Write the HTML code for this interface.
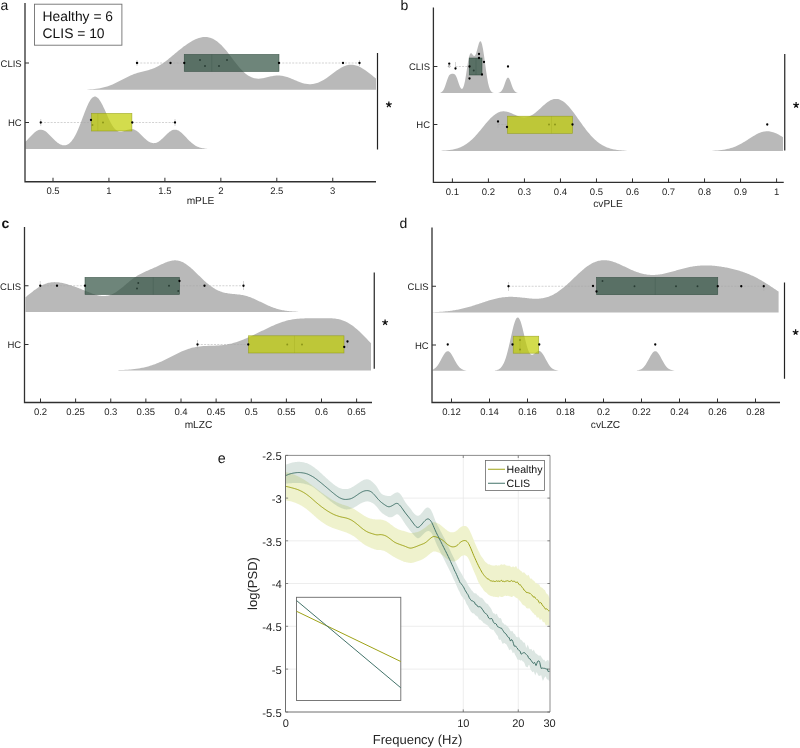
<!DOCTYPE html>
<html><head><meta charset="utf-8"><title>figure</title>
<style>
html,body{margin:0;padding:0;background:#fff;}
body{width:800px;height:748px;overflow:hidden;font-family:"Liberation Sans",sans-serif;}
svg{display:block;} text{text-rendering:geometricPrecision;}
</style></head><body>
<svg width="800" height="748" viewBox="0 0 800 748" style="will-change:transform">
<rect x="0" y="0" width="800" height="748" fill="#ffffff"/>
<path d="M60.00,89.75L60.00,89.75L61.00,89.75L62.00,89.75L63.00,89.75L64.00,89.75L65.00,89.75L66.00,89.75L67.00,89.75L68.00,89.75L69.00,89.75L70.00,89.75L71.00,89.75L72.00,89.75L73.00,89.75L74.00,89.75L75.00,89.75L76.00,89.75L77.00,89.75L78.00,89.75L79.00,89.75L80.00,89.75L81.00,89.75L82.00,89.75L83.00,89.75L84.00,89.75L85.00,89.75L86.00,89.75L87.00,89.75L88.00,89.47L89.00,89.42L90.00,89.37L91.00,89.31L92.00,89.24L93.00,89.16L94.00,89.06L95.00,88.96L96.00,88.85L97.00,88.72L98.00,88.58L99.00,88.42L100.00,88.25L101.00,88.06L102.00,87.85L103.00,87.62L104.00,87.37L105.00,87.11L106.00,86.82L107.00,86.51L108.00,86.18L109.00,85.83L110.00,85.45L111.00,85.06L112.00,84.65L113.00,84.22L114.00,83.77L115.00,83.30L116.00,82.82L117.00,82.32L118.00,81.82L119.00,81.30L120.00,80.78L121.00,80.25L122.00,79.73L123.00,79.20L124.00,78.67L125.00,78.16L126.00,77.65L127.00,77.15L128.00,76.66L129.00,76.19L130.00,75.74L131.00,75.30L132.00,74.89L133.00,74.49L134.00,74.11L135.00,73.76L136.00,73.42L137.00,73.10L138.00,72.80L139.00,72.51L140.00,72.24L141.00,71.98L142.00,71.73L143.00,71.48L144.00,71.23L145.00,70.99L146.00,70.73L147.00,70.47L148.00,70.20L149.00,69.92L150.00,69.61L151.00,69.29L152.00,68.94L153.00,68.56L154.00,68.16L155.00,67.73L156.00,67.26L157.00,66.77L158.00,66.24L159.00,65.68L160.00,65.09L161.00,64.47L162.00,63.82L163.00,63.14L164.00,62.43L165.00,61.70L166.00,60.95L167.00,60.17L168.00,59.38L169.00,58.58L170.00,57.76L171.00,56.93L172.00,56.10L173.00,55.26L174.00,54.42L175.00,53.58L176.00,52.75L177.00,51.92L178.00,51.09L179.00,50.27L180.00,49.46L181.00,48.67L182.00,47.88L183.00,47.12L184.00,46.36L185.00,45.63L186.00,44.91L187.00,44.21L188.00,43.53L189.00,42.88L190.00,42.25L191.00,41.65L192.00,41.07L193.00,40.52L194.00,40.00L195.00,39.52L196.00,39.07L197.00,38.66L198.00,38.28L199.00,37.95L200.00,37.67L201.00,37.42L202.00,37.23L203.00,37.09L204.00,37.00L205.00,36.96L206.00,36.98L207.00,37.06L208.00,37.20L209.00,37.41L210.00,37.67L211.00,38.00L212.00,38.40L213.00,38.86L214.00,39.38L215.00,39.97L216.00,40.63L217.00,41.35L218.00,42.13L219.00,42.97L220.00,43.88L221.00,44.84L222.00,45.85L223.00,46.91L224.00,48.02L225.00,49.18L226.00,50.37L227.00,51.60L228.00,52.85L229.00,54.13L230.00,55.43L231.00,56.74L232.00,58.06L233.00,59.38L234.00,60.69L235.00,62.00L236.00,63.28L237.00,64.54L238.00,65.78L239.00,66.97L240.00,68.13L241.00,69.25L242.00,70.31L243.00,71.32L244.00,72.27L245.00,73.16L246.00,73.99L247.00,74.75L248.00,75.45L249.00,76.07L250.00,76.62L251.00,77.11L252.00,77.52L253.00,77.87L254.00,78.15L255.00,78.36L256.00,78.52L257.00,78.61L258.00,78.65L259.00,78.64L260.00,78.58L261.00,78.48L262.00,78.34L263.00,78.17L264.00,77.98L265.00,77.76L266.00,77.53L267.00,77.29L268.00,77.05L269.00,76.81L270.00,76.58L271.00,76.36L272.00,76.15L273.00,75.97L274.00,75.82L275.00,75.69L276.00,75.59L277.00,75.53L278.00,75.51L279.00,75.52L280.00,75.57L281.00,75.67L282.00,75.80L283.00,75.97L284.00,76.18L285.00,76.42L286.00,76.70L287.00,77.01L288.00,77.34L289.00,77.70L290.00,78.09L291.00,78.49L292.00,78.90L293.00,79.32L294.00,79.75L295.00,80.18L296.00,80.61L297.00,81.03L298.00,81.44L299.00,81.83L300.00,82.21L301.00,82.56L302.00,82.88L303.00,83.18L304.00,83.44L305.00,83.67L306.00,83.86L307.00,84.01L308.00,84.12L309.00,84.19L310.00,84.21L311.00,84.19L312.00,84.12L313.00,84.00L314.00,83.83L315.00,83.62L316.00,83.36L317.00,83.05L318.00,82.69L319.00,82.29L320.00,81.85L321.00,81.37L322.00,80.84L323.00,80.28L324.00,79.68L325.00,79.05L326.00,78.40L327.00,77.71L328.00,77.01L329.00,76.28L330.00,75.54L331.00,74.80L332.00,74.04L333.00,73.29L334.00,72.54L335.00,71.80L336.00,71.07L337.00,70.37L338.00,69.68L339.00,69.02L340.00,68.40L341.00,67.81L342.00,67.26L343.00,66.76L344.00,66.30L345.00,65.90L346.00,65.55L347.00,65.26L348.00,65.02L349.00,64.85L350.00,64.74L351.00,64.69L352.00,64.71L353.00,64.79L354.00,64.93L355.00,65.14L356.00,65.40L357.00,65.73L358.00,66.10L359.00,66.54L360.00,67.02L361.00,67.55L362.00,68.13L363.00,68.74L364.00,69.39L365.00,70.07L366.00,70.78L367.00,71.51L368.00,72.26L369.00,73.02L370.00,73.80L371.00,74.58L372.00,75.36L373.00,76.13L374.00,76.90L375.00,77.66L376.00,78.41L376.00,89.75 Z" fill="#b9b9b9"/>
<path d="M25.50,149.05L25.50,141.63L26.50,140.67L27.50,139.66L28.50,138.61L29.50,137.55L30.50,136.48L31.50,135.43L32.50,134.41L33.50,133.44L34.50,132.54L35.50,131.74L36.50,131.05L37.50,130.48L38.50,130.05L39.50,129.77L40.50,129.65L41.50,129.69L42.50,129.89L43.50,130.24L44.50,130.74L45.50,131.37L46.50,132.12L47.50,132.97L48.50,133.90L49.50,134.89L50.50,135.92L51.50,136.97L52.50,138.02L53.50,139.04L54.50,140.04L55.50,140.98L56.50,141.85L57.50,142.65L58.50,143.36L59.50,143.97L60.50,144.47L61.50,144.86L62.50,145.13L63.50,145.28L64.50,145.29L65.50,145.16L66.50,144.89L67.50,144.47L68.50,143.89L69.50,143.14L70.50,142.23L71.50,141.13L72.50,139.85L73.50,138.38L74.50,136.73L75.50,134.90L76.50,132.89L77.50,130.72L78.50,128.40L79.50,125.95L80.50,123.39L81.50,120.77L82.50,118.09L83.50,115.42L84.50,112.77L85.50,110.20L86.50,107.75L87.50,105.45L88.50,103.35L89.50,101.48L90.50,99.87L91.50,98.56L92.50,97.57L93.50,96.90L94.50,96.58L95.50,96.60L96.50,96.95L97.50,97.63L98.50,98.62L99.50,99.89L100.50,101.41L101.50,103.16L102.50,105.08L103.50,107.15L104.50,109.33L105.50,111.56L106.50,113.82L107.50,116.06L108.50,118.24L109.50,120.33L110.50,122.29L111.50,124.11L112.50,125.76L113.50,127.21L114.50,128.47L115.50,129.51L116.50,130.34L117.50,130.97L118.50,131.39L119.50,131.63L120.50,131.71L121.50,131.64L122.50,131.44L123.50,131.16L124.50,130.82L125.50,130.44L126.50,130.06L127.50,129.71L128.50,129.41L129.50,129.18L130.50,129.05L131.50,129.03L132.50,129.13L133.50,129.36L134.50,129.73L135.50,130.22L136.50,130.83L137.50,131.55L138.50,132.37L139.50,133.26L140.50,134.21L141.50,135.20L142.50,136.21L143.50,137.21L144.50,138.19L145.50,139.12L146.50,139.98L147.50,140.77L148.50,141.47L149.50,142.05L150.50,142.53L151.50,142.87L152.50,143.09L153.50,143.18L154.50,143.12L155.50,142.94L156.50,142.63L157.50,142.19L158.50,141.63L159.50,140.96L160.50,140.20L161.50,139.35L162.50,138.44L163.50,137.47L164.50,136.49L165.50,135.49L166.50,134.51L167.50,133.56L168.50,132.67L169.50,131.87L170.50,131.16L171.50,130.57L172.50,130.12L173.50,129.81L174.50,129.66L175.50,129.66L176.50,129.82L177.50,130.14L178.50,130.60L179.50,131.21L180.50,131.93L181.50,132.76L182.50,133.67L183.50,134.66L184.50,135.69L185.50,136.75L186.50,137.82L187.50,138.88L188.50,139.91L189.50,140.91L190.50,141.86L191.50,142.75L192.50,143.58L193.50,144.33L194.50,145.02L195.50,145.63L196.50,146.18L197.50,146.66L198.50,147.07L199.50,147.43L200.50,147.73L201.50,147.98L202.50,148.20L203.50,148.37L204.50,148.52L205.50,148.63L206.50,148.73L207.50,149.05L208.50,149.05L209.50,149.05L210.50,149.05L211.50,149.05L212.50,149.05L213.50,149.05L214.50,149.05L215.50,149.05L216.50,149.05L217.50,149.05L218.50,149.05L219.50,149.05L220.50,149.05L221.50,149.05L222.50,149.05L223.50,149.05L224.50,149.05L225.50,149.05L226.50,149.05L227.50,149.05L228.50,149.05L229.50,149.05L229.50,149.05 Z" fill="#b9b9b9"/>
<line x1="137.00" y1="63.00" x2="184.25" y2="63.00" stroke="#a6a6a6" stroke-width="0.5" stroke-dasharray="2,1.3"/>
<line x1="279.00" y1="63.00" x2="359.50" y2="63.00" stroke="#a6a6a6" stroke-width="0.5" stroke-dasharray="2,1.3"/>
<rect x="184.25" y="54.40" width="94.75" height="17.10" fill="#305142" fill-opacity="0.7" stroke="#2a463a" stroke-opacity="0.8" stroke-width="0.6"/>
<line x1="211.75" y1="54.40" x2="211.75" y2="71.50" stroke="#2a463a" stroke-opacity="0.35" stroke-width="0.6"/>
<line x1="137.00" y1="60.00" x2="137.00" y2="66.00" stroke="#aaa" stroke-width="0.5"/>
<line x1="359.50" y1="60.00" x2="359.50" y2="66.00" stroke="#aaa" stroke-width="0.5"/>
<circle cx="137.00" cy="63.00" r="1.15" fill="#000"/>
<circle cx="170.50" cy="63.00" r="1.15" fill="#000"/>
<circle cx="184.25" cy="63.00" r="1.15" fill="#000"/>
<circle cx="200.00" cy="60.00" r="0.95" fill="#1c2e27" fill-opacity="0.8"/>
<circle cx="205.00" cy="66.00" r="0.95" fill="#1c2e27" fill-opacity="0.8"/>
<circle cx="219.00" cy="66.00" r="0.95" fill="#1c2e27" fill-opacity="0.8"/>
<circle cx="227.00" cy="60.00" r="0.95" fill="#1c2e27" fill-opacity="0.8"/>
<circle cx="279.00" cy="63.00" r="1.15" fill="#000"/>
<circle cx="343.00" cy="63.00" r="1.15" fill="#000"/>
<circle cx="359.50" cy="63.00" r="1.15" fill="#000"/>
<line x1="40.75" y1="122.50" x2="91.50" y2="122.50" stroke="#a6a6a6" stroke-width="0.5" stroke-dasharray="2,1.3"/>
<line x1="132.25" y1="122.50" x2="175.00" y2="122.50" stroke="#a6a6a6" stroke-width="0.5" stroke-dasharray="2,1.3"/>
<rect x="91.50" y="113.40" width="40.40" height="17.60" fill="#c0cd02" fill-opacity="0.7" stroke="#8f9a10" stroke-opacity="0.8" stroke-width="0.6"/>
<line x1="97.80" y1="113.40" x2="97.80" y2="131.00" stroke="#8f9a10" stroke-opacity="0.35" stroke-width="0.6"/>
<line x1="40.75" y1="119.00" x2="40.75" y2="126.00" stroke="#aaa" stroke-width="0.5"/>
<line x1="175.00" y1="119.00" x2="175.00" y2="126.00" stroke="#aaa" stroke-width="0.5"/>
<circle cx="40.75" cy="122.50" r="1.15" fill="#000"/>
<circle cx="91.00" cy="120.00" r="1.15" fill="#000"/>
<circle cx="92.50" cy="125.00" r="0.95" fill="#7e8a10" fill-opacity="0.8"/>
<circle cx="103.00" cy="122.50" r="0.95" fill="#7e8a10" fill-opacity="0.8"/>
<circle cx="132.25" cy="122.50" r="1.15" fill="#000"/>
<circle cx="175.00" cy="122.50" r="1.15" fill="#000"/>
<path d="M25.00,3.00 V181.75 H376.00" fill="none" stroke="#303030" stroke-width="1.3"/>
<line x1="53.00" y1="181.75" x2="53.00" y2="177.75" stroke="#303030" stroke-width="1"/>
<text x="53.00" y="193.90" font-family="Liberation Sans, sans-serif" font-size="9.5" text-anchor="middle" fill="#262626">0.5</text>
<line x1="108.95" y1="181.75" x2="108.95" y2="177.75" stroke="#303030" stroke-width="1"/>
<text x="108.95" y="193.90" font-family="Liberation Sans, sans-serif" font-size="9.5" text-anchor="middle" fill="#262626">1</text>
<line x1="164.90" y1="181.75" x2="164.90" y2="177.75" stroke="#303030" stroke-width="1"/>
<text x="164.90" y="193.90" font-family="Liberation Sans, sans-serif" font-size="9.5" text-anchor="middle" fill="#262626">1.5</text>
<line x1="220.85" y1="181.75" x2="220.85" y2="177.75" stroke="#303030" stroke-width="1"/>
<text x="220.85" y="193.90" font-family="Liberation Sans, sans-serif" font-size="9.5" text-anchor="middle" fill="#262626">2</text>
<line x1="276.80" y1="181.75" x2="276.80" y2="177.75" stroke="#303030" stroke-width="1"/>
<text x="276.80" y="193.90" font-family="Liberation Sans, sans-serif" font-size="9.5" text-anchor="middle" fill="#262626">2.5</text>
<line x1="332.75" y1="181.75" x2="332.75" y2="177.75" stroke="#303030" stroke-width="1"/>
<text x="332.75" y="193.90" font-family="Liberation Sans, sans-serif" font-size="9.5" text-anchor="middle" fill="#262626">3</text>
<line x1="25.00" y1="63.00" x2="29.00" y2="63.00" stroke="#303030" stroke-width="1"/>
<text x="21.70" y="66.90" font-family="Liberation Sans, sans-serif" font-size="9.5" text-anchor="end" fill="#262626">CLIS</text>
<line x1="25.00" y1="122.50" x2="29.00" y2="122.50" stroke="#303030" stroke-width="1"/>
<text x="21.70" y="126.40" font-family="Liberation Sans, sans-serif" font-size="9.5" text-anchor="end" fill="#262626">HC</text>
<text x="200.50" y="203.50" font-family="Liberation Sans, sans-serif" font-size="10.2" text-anchor="middle" fill="#262626">mPLE</text>
<line x1="377.50" y1="53.00" x2="377.50" y2="149.50" stroke="#222" stroke-width="1.2"/>
<path d="M388.85,104.60 L388.85,101.60 M388.85,104.60 L391.70,103.67 M388.85,104.60 L390.61,107.03 M388.85,104.60 L387.09,107.03 M388.85,104.60 L386.00,103.67 " stroke="#151515" stroke-width="1.25" fill="none"/>
<text x="0.50" y="9.80" font-family="Liberation Sans, sans-serif" font-size="14"  fill="#111">a</text>
<path d="M434.00,93.00L434.00,93.00L435.00,93.00L436.00,93.00L437.00,93.00L438.00,93.00L439.00,93.00L440.00,93.00L441.00,92.44L442.00,91.81L443.00,90.69L444.00,88.94L445.00,86.51L446.00,83.56L447.00,80.44L448.00,77.64L449.00,75.58L450.00,74.38L451.00,73.89L452.00,73.76L453.00,73.78L454.00,73.96L455.00,74.60L456.00,76.01L457.00,78.27L458.00,81.16L459.00,84.19L460.00,86.80L461.00,88.53L462.00,89.02L463.00,88.01L464.00,85.32L465.00,80.91L466.00,75.05L467.00,68.43L468.00,62.05L469.00,56.98L470.00,53.97L471.00,53.10L472.00,53.84L473.00,55.19L474.00,56.07L475.00,55.65L476.00,53.63L477.00,50.27L478.00,46.38L479.00,43.03L480.00,41.19L481.00,41.51L482.00,44.20L483.00,49.04L484.00,55.51L485.00,62.87L486.00,70.31L487.00,77.07L488.00,82.64L489.00,86.78L490.00,89.56L491.00,91.26L492.00,92.19L493.00,92.66L494.00,93.00L495.00,93.00L496.00,93.00L497.00,93.00L498.00,93.00L499.00,92.70L500.00,92.32L501.00,91.58L502.00,90.33L503.00,88.43L504.00,85.90L505.00,83.01L506.00,80.25L507.00,78.24L508.00,77.50L509.00,78.24L510.00,80.25L511.00,83.01L512.00,85.90L513.00,88.43L514.00,90.33L515.00,91.58L516.00,92.32L517.00,92.70L518.00,93.00L519.00,93.00L520.00,93.00L521.00,93.00L522.00,93.00L523.00,93.00L524.00,93.00L525.00,93.00L526.00,93.00L527.00,93.00L528.00,93.00L529.00,93.00L530.00,93.00L530.00,93.00 Z" fill="#b9b9b9"/>
<path d="M434.00,150.95L434.00,150.95L435.00,150.95L436.00,150.95L437.00,150.95L438.00,150.95L439.00,150.95L440.00,150.95L441.00,150.95L442.00,150.66L443.00,150.61L444.00,150.55L445.00,150.48L446.00,150.41L447.00,150.32L448.00,150.22L449.00,150.10L450.00,149.97L451.00,149.82L452.00,149.65L453.00,149.46L454.00,149.25L455.00,149.01L456.00,148.75L457.00,148.46L458.00,148.13L459.00,147.78L460.00,147.39L461.00,146.96L462.00,146.49L463.00,145.99L464.00,145.44L465.00,144.85L466.00,144.21L467.00,143.52L468.00,142.79L469.00,142.01L470.00,141.19L471.00,140.32L472.00,139.40L473.00,138.44L474.00,137.43L475.00,136.39L476.00,135.30L477.00,134.19L478.00,133.04L479.00,131.86L480.00,130.67L481.00,129.46L482.00,128.23L483.00,127.01L484.00,125.78L485.00,124.57L486.00,123.36L487.00,122.19L488.00,121.04L489.00,119.93L490.00,118.86L491.00,117.85L492.00,116.89L493.00,115.99L494.00,115.16L495.00,114.41L496.00,113.73L497.00,113.13L498.00,112.62L499.00,112.19L500.00,111.85L501.00,111.59L502.00,111.42L503.00,111.33L504.00,111.33L505.00,111.39L506.00,111.53L507.00,111.74L508.00,112.00L509.00,112.32L510.00,112.68L511.00,113.08L512.00,113.50L513.00,113.94L514.00,114.39L515.00,114.84L516.00,115.28L517.00,115.70L518.00,116.09L519.00,116.44L520.00,116.74L521.00,117.00L522.00,117.19L523.00,117.32L524.00,117.38L525.00,117.36L526.00,117.26L527.00,117.09L528.00,116.84L529.00,116.50L530.00,116.09L531.00,115.60L532.00,115.04L533.00,114.41L534.00,113.72L535.00,112.97L536.00,112.17L537.00,111.32L538.00,110.45L539.00,109.55L540.00,108.63L541.00,107.70L542.00,106.78L543.00,105.87L544.00,104.99L545.00,104.13L546.00,103.31L547.00,102.54L548.00,101.83L549.00,101.18L550.00,100.60L551.00,100.10L552.00,99.68L553.00,99.35L554.00,99.11L555.00,98.97L556.00,98.92L557.00,98.97L558.00,99.12L559.00,99.37L560.00,99.72L561.00,100.16L562.00,100.70L563.00,101.34L564.00,102.06L565.00,102.86L566.00,103.75L567.00,104.71L568.00,105.74L569.00,106.83L570.00,107.99L571.00,109.20L572.00,110.45L573.00,111.75L574.00,113.08L575.00,114.44L576.00,115.83L577.00,117.23L578.00,118.64L579.00,120.05L580.00,121.46L581.00,122.87L582.00,124.27L583.00,125.65L584.00,127.01L585.00,128.35L586.00,129.66L587.00,130.93L588.00,132.17L589.00,133.37L590.00,134.54L591.00,135.66L592.00,136.73L593.00,137.76L594.00,138.75L595.00,139.69L596.00,140.58L597.00,141.42L598.00,142.21L599.00,142.96L600.00,143.66L601.00,144.32L602.00,144.93L603.00,145.50L604.00,146.03L605.00,146.51L606.00,146.96L607.00,147.38L608.00,147.76L609.00,148.10L610.00,148.42L611.00,148.70L612.00,148.96L613.00,149.20L614.00,149.41L615.00,149.59L616.00,149.76L617.00,149.91L618.00,150.05L619.00,150.17L620.00,150.27L621.00,150.36L622.00,150.45L623.00,150.52L624.00,150.58L625.00,150.63L626.00,150.68L627.00,150.95L628.00,150.95L629.00,150.95L630.00,150.95L631.00,150.95L632.00,150.95L633.00,150.95L634.00,150.95L635.00,150.95L636.00,150.95L637.00,150.95L638.00,150.95L639.00,150.95L640.00,150.95L641.00,150.95L642.00,150.95L643.00,150.95L644.00,150.95L645.00,150.95L646.00,150.95L647.00,150.95L648.00,150.95L649.00,150.95L650.00,150.95L651.00,150.95L652.00,150.95L653.00,150.95L654.00,150.95L655.00,150.95L656.00,150.95L657.00,150.95L658.00,150.95L659.00,150.95L660.00,150.95L661.00,150.95L662.00,150.95L663.00,150.95L664.00,150.95L665.00,150.95L666.00,150.95L667.00,150.95L668.00,150.95L669.00,150.95L670.00,150.95L671.00,150.95L672.00,150.95L673.00,150.95L674.00,150.95L675.00,150.95L676.00,150.95L677.00,150.95L678.00,150.95L679.00,150.95L680.00,150.95L681.00,150.95L682.00,150.95L683.00,150.95L684.00,150.95L685.00,150.95L686.00,150.95L687.00,150.95L688.00,150.95L689.00,150.95L690.00,150.95L691.00,150.95L692.00,150.95L693.00,150.95L694.00,150.95L695.00,150.95L696.00,150.95L697.00,150.95L698.00,150.95L699.00,150.95L700.00,150.95L701.00,150.95L702.00,150.95L703.00,150.95L704.00,150.95L705.00,150.95L706.00,150.95L707.00,150.95L708.00,150.95L709.00,150.95L710.00,150.95L711.00,150.95L712.00,150.95L713.00,150.68L714.00,150.64L715.00,150.58L716.00,150.53L717.00,150.46L718.00,150.38L719.00,150.29L720.00,150.19L721.00,150.08L722.00,149.96L723.00,149.82L724.00,149.67L725.00,149.50L726.00,149.31L727.00,149.10L728.00,148.87L729.00,148.63L730.00,148.36L731.00,148.06L732.00,147.74L733.00,147.40L734.00,147.03L735.00,146.64L736.00,146.22L737.00,145.78L738.00,145.31L739.00,144.81L740.00,144.29L741.00,143.75L742.00,143.19L743.00,142.61L744.00,142.01L745.00,141.39L746.00,140.76L747.00,140.13L748.00,139.49L749.00,138.84L750.00,138.20L751.00,137.56L752.00,136.92L753.00,136.31L754.00,135.71L755.00,135.13L756.00,134.58L757.00,134.05L758.00,133.56L759.00,133.11L760.00,132.71L761.00,132.34L762.00,132.03L763.00,131.76L764.00,131.55L765.00,131.40L766.00,131.29L767.00,131.25L768.00,131.27L769.00,131.34L770.00,131.47L771.00,131.65L772.00,131.89L773.00,132.18L774.00,132.52L775.00,132.90L776.00,133.33L777.00,133.80L778.00,134.31L779.00,134.85L780.00,135.41L781.00,136.00L782.00,136.61L783.00,137.24L783.00,150.95 Z" fill="#b9b9b9"/>
<line x1="455.50" y1="66.50" x2="469.25" y2="66.50" stroke="#a6a6a6" stroke-width="0.5" stroke-dasharray="2,1.3"/>
<rect x="469.25" y="58.00" width="12.75" height="17.00" fill="#305142" fill-opacity="0.7" stroke="#2a463a" stroke-opacity="0.8" stroke-width="0.6"/>
<line x1="476.00" y1="58.00" x2="476.00" y2="75.00" stroke="#2a463a" stroke-opacity="0.35" stroke-width="0.6"/>
<line x1="455.50" y1="62.00" x2="455.50" y2="68.00" stroke="#aaa" stroke-width="0.5"/>
<circle cx="449.25" cy="63.70" r="1.15" fill="#000"/>
<circle cx="449.25" cy="66.30" r="0.95" fill="#fff" stroke="#555" stroke-width="0.5"/>
<circle cx="455.50" cy="68.50" r="1.15" fill="#000"/>
<circle cx="469.50" cy="66.50" r="1.15" fill="#000"/>
<circle cx="469.50" cy="78.50" r="1.15" fill="#000"/>
<circle cx="473.75" cy="70.50" r="0.95" fill="#1c2e27" fill-opacity="0.8"/>
<circle cx="479.00" cy="54.00" r="1.15" fill="#000"/>
<circle cx="479.00" cy="58.00" r="1.15" fill="#000"/>
<circle cx="482.00" cy="74.50" r="1.15" fill="#000"/>
<circle cx="484.00" cy="62.00" r="1.15" fill="#000"/>
<circle cx="508.00" cy="66.50" r="1.15" fill="#000"/>
<line x1="498.00" y1="124.50" x2="507.50" y2="124.50" stroke="#a6a6a6" stroke-width="0.5" stroke-dasharray="2,1.3"/>
<rect x="507.50" y="116.20" width="65.00" height="17.20" fill="#c0cd02" fill-opacity="0.7" stroke="#8f9a10" stroke-opacity="0.8" stroke-width="0.6"/>
<line x1="551.50" y1="116.20" x2="551.50" y2="133.40" stroke="#8f9a10" stroke-opacity="0.35" stroke-width="0.6"/>
<line x1="498.00" y1="122.00" x2="498.00" y2="128.00" stroke="#aaa" stroke-width="0.5"/>
<circle cx="498.00" cy="121.50" r="1.15" fill="#000"/>
<circle cx="507.00" cy="127.00" r="1.15" fill="#000"/>
<circle cx="549.00" cy="124.50" r="0.95" fill="#7e8a10" fill-opacity="0.8"/>
<circle cx="555.00" cy="124.50" r="0.95" fill="#7e8a10" fill-opacity="0.8"/>
<circle cx="572.50" cy="124.50" r="1.15" fill="#000"/>
<circle cx="767.25" cy="124.50" r="1.15" fill="#000"/>
<path d="M433.40,7.50 V182.40 H783.75" fill="none" stroke="#303030" stroke-width="1.3"/>
<line x1="452.40" y1="182.40" x2="452.40" y2="178.40" stroke="#303030" stroke-width="1"/>
<text x="452.40" y="194.60" font-family="Liberation Sans, sans-serif" font-size="9.5" text-anchor="middle" fill="#262626">0.1</text>
<line x1="488.42" y1="182.40" x2="488.42" y2="178.40" stroke="#303030" stroke-width="1"/>
<text x="488.42" y="194.60" font-family="Liberation Sans, sans-serif" font-size="9.5" text-anchor="middle" fill="#262626">0.2</text>
<line x1="524.44" y1="182.40" x2="524.44" y2="178.40" stroke="#303030" stroke-width="1"/>
<text x="524.44" y="194.60" font-family="Liberation Sans, sans-serif" font-size="9.5" text-anchor="middle" fill="#262626">0.3</text>
<line x1="560.46" y1="182.40" x2="560.46" y2="178.40" stroke="#303030" stroke-width="1"/>
<text x="560.46" y="194.60" font-family="Liberation Sans, sans-serif" font-size="9.5" text-anchor="middle" fill="#262626">0.4</text>
<line x1="596.48" y1="182.40" x2="596.48" y2="178.40" stroke="#303030" stroke-width="1"/>
<text x="596.48" y="194.60" font-family="Liberation Sans, sans-serif" font-size="9.5" text-anchor="middle" fill="#262626">0.5</text>
<line x1="632.50" y1="182.40" x2="632.50" y2="178.40" stroke="#303030" stroke-width="1"/>
<text x="632.50" y="194.60" font-family="Liberation Sans, sans-serif" font-size="9.5" text-anchor="middle" fill="#262626">0.6</text>
<line x1="668.52" y1="182.40" x2="668.52" y2="178.40" stroke="#303030" stroke-width="1"/>
<text x="668.52" y="194.60" font-family="Liberation Sans, sans-serif" font-size="9.5" text-anchor="middle" fill="#262626">0.7</text>
<line x1="704.54" y1="182.40" x2="704.54" y2="178.40" stroke="#303030" stroke-width="1"/>
<text x="704.54" y="194.60" font-family="Liberation Sans, sans-serif" font-size="9.5" text-anchor="middle" fill="#262626">0.8</text>
<line x1="740.56" y1="182.40" x2="740.56" y2="178.40" stroke="#303030" stroke-width="1"/>
<text x="740.56" y="194.60" font-family="Liberation Sans, sans-serif" font-size="9.5" text-anchor="middle" fill="#262626">0.9</text>
<line x1="776.58" y1="182.40" x2="776.58" y2="178.40" stroke="#303030" stroke-width="1"/>
<text x="776.58" y="194.60" font-family="Liberation Sans, sans-serif" font-size="9.5" text-anchor="middle" fill="#262626">1</text>
<line x1="433.40" y1="66.50" x2="437.40" y2="66.50" stroke="#303030" stroke-width="1"/>
<text x="430.10" y="70.40" font-family="Liberation Sans, sans-serif" font-size="9.5" text-anchor="end" fill="#262626">CLIS</text>
<line x1="433.40" y1="124.50" x2="437.40" y2="124.50" stroke="#303030" stroke-width="1"/>
<text x="430.10" y="128.40" font-family="Liberation Sans, sans-serif" font-size="9.5" text-anchor="end" fill="#262626">HC</text>
<text x="608.00" y="207.00" font-family="Liberation Sans, sans-serif" font-size="10.2" text-anchor="middle" fill="#262626">cvPLE</text>
<line x1="784.75" y1="54.00" x2="784.75" y2="150.50" stroke="#222" stroke-width="1.2"/>
<path d="M796.10,105.10 L796.10,102.10 M796.10,105.10 L798.95,104.17 M796.10,105.10 L797.86,107.53 M796.10,105.10 L794.34,107.53 M796.10,105.10 L793.25,104.17 " stroke="#151515" stroke-width="1.25" fill="none"/>
<text x="400.50" y="9.80" font-family="Liberation Sans, sans-serif" font-size="14"  fill="#111">b</text>
<path d="M25.50,311.95L25.50,297.20L26.50,296.40L27.50,295.60L28.50,294.80L29.50,294.00L30.50,293.20L31.50,292.41L32.50,291.63L33.50,290.86L34.50,290.11L35.50,289.38L36.50,288.68L37.50,287.99L38.50,287.34L39.50,286.72L40.50,286.13L41.50,285.58L42.50,285.07L43.50,284.60L44.50,284.16L45.50,283.77L46.50,283.42L47.50,283.12L48.50,282.85L49.50,282.63L50.50,282.45L51.50,282.31L52.50,282.21L53.50,282.15L54.50,282.12L55.50,282.14L56.50,282.18L57.50,282.26L58.50,282.36L59.50,282.50L60.50,282.66L61.50,282.84L62.50,283.05L63.50,283.27L64.50,283.51L65.50,283.77L66.50,284.05L67.50,284.33L68.50,284.63L69.50,284.94L70.50,285.26L71.50,285.58L72.50,285.92L73.50,286.26L74.50,286.61L75.50,286.97L76.50,287.34L77.50,287.71L78.50,288.08L79.50,288.47L80.50,288.86L81.50,289.25L82.50,289.65L83.50,290.05L84.50,290.46L85.50,290.86L86.50,291.27L87.50,291.68L88.50,292.08L89.50,292.48L90.50,292.87L91.50,293.26L92.50,293.63L93.50,293.98L94.50,294.32L95.50,294.64L96.50,294.93L97.50,295.20L98.50,295.43L99.50,295.63L100.50,295.80L101.50,295.92L102.50,296.00L103.50,296.04L104.50,296.02L105.50,295.96L106.50,295.84L107.50,295.67L108.50,295.45L109.50,295.17L110.50,294.83L111.50,294.44L112.50,294.00L113.50,293.51L114.50,292.97L115.50,292.38L116.50,291.74L117.50,291.07L118.50,290.35L119.50,289.61L120.50,288.83L121.50,288.04L122.50,287.22L123.50,286.39L124.50,285.55L125.50,284.70L126.50,283.85L127.50,283.01L128.50,282.18L129.50,281.36L130.50,280.56L131.50,279.78L132.50,279.02L133.50,278.28L134.50,277.58L135.50,276.89L136.50,276.24L137.50,275.62L138.50,275.02L139.50,274.45L140.50,273.91L141.50,273.39L142.50,272.89L143.50,272.41L144.50,271.95L145.50,271.50L146.50,271.06L147.50,270.63L148.50,270.20L149.50,269.78L150.50,269.35L151.50,268.92L152.50,268.49L153.50,268.05L154.50,267.60L155.50,267.15L156.50,266.69L157.50,266.23L158.50,265.76L159.50,265.29L160.50,264.81L161.50,264.34L162.50,263.88L163.50,263.43L164.50,262.99L165.50,262.57L166.50,262.17L167.50,261.80L168.50,261.46L169.50,261.16L170.50,260.89L171.50,260.68L172.50,260.51L173.50,260.40L174.50,260.34L175.50,260.34L176.50,260.40L177.50,260.52L178.50,260.71L179.50,260.96L180.50,261.27L181.50,261.65L182.50,262.09L183.50,262.59L184.50,263.15L185.50,263.76L186.50,264.43L187.50,265.15L188.50,265.91L189.50,266.72L190.50,267.56L191.50,268.43L192.50,269.34L193.50,270.27L194.50,271.22L195.50,272.18L196.50,273.16L197.50,274.14L198.50,275.13L199.50,276.11L200.50,277.09L201.50,278.06L202.50,279.02L203.50,279.96L204.50,280.88L205.50,281.79L206.50,282.66L207.50,283.52L208.50,284.34L209.50,285.13L210.50,285.89L211.50,286.61L212.50,287.30L213.50,287.95L214.50,288.57L215.50,289.14L216.50,289.68L217.50,290.18L218.50,290.64L219.50,291.07L220.50,291.46L221.50,291.81L222.50,292.13L223.50,292.41L224.50,292.66L225.50,292.89L226.50,293.09L227.50,293.27L228.50,293.42L229.50,293.56L230.50,293.68L231.50,293.79L232.50,293.89L233.50,293.98L234.50,294.08L235.50,294.17L236.50,294.27L237.50,294.38L238.50,294.49L239.50,294.62L240.50,294.77L241.50,294.93L242.50,295.11L243.50,295.31L244.50,295.53L245.50,295.78L246.50,296.04L247.50,296.34L248.50,296.65L249.50,296.99L250.50,297.35L251.50,297.74L252.50,298.14L253.50,298.56L254.50,299.00L255.50,299.46L256.50,299.92L257.50,300.40L258.50,300.88L259.50,301.38L260.50,301.87L261.50,302.37L262.50,302.86L263.50,303.35L264.50,303.84L265.50,304.32L266.50,304.79L267.50,305.25L268.50,305.69L269.50,306.12L270.50,306.54L271.50,306.94L272.50,307.32L273.50,307.69L274.50,308.04L275.50,308.36L276.50,308.67L277.50,308.97L278.50,309.24L279.50,309.49L280.50,309.73L281.50,309.95L282.50,310.15L283.50,310.34L284.50,310.51L285.50,310.67L286.50,310.81L287.50,310.94L288.50,311.06L289.50,311.16L290.50,311.26L291.50,311.34L292.50,311.42L293.50,311.49L294.50,311.55L295.50,311.60L296.50,311.65L297.50,311.69L298.50,311.95L299.50,311.95L300.50,311.95L301.50,311.95L302.50,311.95L303.50,311.95L304.50,311.95L305.50,311.95L306.50,311.95L307.50,311.95L308.50,311.95L309.50,311.95L309.50,311.95 Z" fill="#b9b9b9"/>
<path d="M100.00,370.40L100.00,370.40L101.00,370.40L102.00,370.40L103.00,370.40L104.00,370.40L105.00,370.40L106.00,370.40L107.00,370.40L108.00,370.40L109.00,370.40L110.00,370.40L111.00,370.40L112.00,370.40L113.00,370.40L114.00,370.40L115.00,370.40L116.00,370.40L117.00,370.40L118.00,370.40L119.00,370.12L120.00,370.09L121.00,370.05L122.00,370.01L123.00,369.97L124.00,369.92L125.00,369.87L126.00,369.81L127.00,369.75L128.00,369.68L129.00,369.60L130.00,369.52L131.00,369.43L132.00,369.34L133.00,369.23L134.00,369.12L135.00,369.00L136.00,368.87L137.00,368.73L138.00,368.58L139.00,368.42L140.00,368.25L141.00,368.06L142.00,367.87L143.00,367.66L144.00,367.44L145.00,367.21L146.00,366.96L147.00,366.71L148.00,366.43L149.00,366.15L150.00,365.85L151.00,365.53L152.00,365.20L153.00,364.86L154.00,364.50L155.00,364.13L156.00,363.75L157.00,363.35L158.00,362.94L159.00,362.52L160.00,362.08L161.00,361.63L162.00,361.18L163.00,360.71L164.00,360.23L165.00,359.75L166.00,359.26L167.00,358.76L168.00,358.26L169.00,357.75L170.00,357.24L171.00,356.73L172.00,356.21L173.00,355.70L174.00,355.19L175.00,354.69L176.00,354.19L177.00,353.70L178.00,353.21L179.00,352.73L180.00,352.27L181.00,351.81L182.00,351.37L183.00,350.94L184.00,350.53L185.00,350.13L186.00,349.75L187.00,349.39L188.00,349.04L189.00,348.72L190.00,348.41L191.00,348.12L192.00,347.85L193.00,347.60L194.00,347.38L195.00,347.16L196.00,346.97L197.00,346.80L198.00,346.64L199.00,346.51L200.00,346.38L201.00,346.28L202.00,346.18L203.00,346.10L204.00,346.03L205.00,345.98L206.00,345.93L207.00,345.89L208.00,345.85L209.00,345.82L210.00,345.79L211.00,345.77L212.00,345.74L213.00,345.72L214.00,345.69L215.00,345.65L216.00,345.61L217.00,345.56L218.00,345.51L219.00,345.45L220.00,345.37L221.00,345.28L222.00,345.18L223.00,345.07L224.00,344.95L225.00,344.81L226.00,344.65L227.00,344.48L228.00,344.29L229.00,344.09L230.00,343.87L231.00,343.64L232.00,343.39L233.00,343.12L234.00,342.84L235.00,342.54L236.00,342.23L237.00,341.91L238.00,341.57L239.00,341.22L240.00,340.85L241.00,340.48L242.00,340.09L243.00,339.69L244.00,339.28L245.00,338.86L246.00,338.44L247.00,338.00L248.00,337.56L249.00,337.11L250.00,336.65L251.00,336.19L252.00,335.72L253.00,335.25L254.00,334.77L255.00,334.29L256.00,333.81L257.00,333.32L258.00,332.83L259.00,332.34L260.00,331.85L261.00,331.36L262.00,330.87L263.00,330.38L264.00,329.89L265.00,329.40L266.00,328.92L267.00,328.44L268.00,327.96L269.00,327.48L270.00,327.02L271.00,326.55L272.00,326.10L273.00,325.65L274.00,325.21L275.00,324.78L276.00,324.36L277.00,323.95L278.00,323.55L279.00,323.16L280.00,322.79L281.00,322.43L282.00,322.08L283.00,321.75L284.00,321.43L285.00,321.13L286.00,320.85L287.00,320.58L288.00,320.33L289.00,320.10L290.00,319.88L291.00,319.68L292.00,319.50L293.00,319.33L294.00,319.18L295.00,319.05L296.00,318.92L297.00,318.82L298.00,318.72L299.00,318.64L300.00,318.58L301.00,318.52L302.00,318.47L303.00,318.43L304.00,318.40L305.00,318.37L306.00,318.35L307.00,318.34L308.00,318.33L309.00,318.32L310.00,318.31L311.00,318.30L312.00,318.30L313.00,318.29L314.00,318.28L315.00,318.27L316.00,318.26L317.00,318.25L318.00,318.24L319.00,318.22L320.00,318.20L321.00,318.19L322.00,318.17L323.00,318.16L324.00,318.15L325.00,318.14L326.00,318.13L327.00,318.14L328.00,318.15L329.00,318.17L330.00,318.20L331.00,318.25L332.00,318.31L333.00,318.39L334.00,318.48L335.00,318.60L336.00,318.75L337.00,318.91L338.00,319.11L339.00,319.33L340.00,319.58L341.00,319.87L342.00,320.18L343.00,320.54L344.00,320.92L345.00,321.35L346.00,321.81L347.00,322.31L348.00,322.84L349.00,323.42L350.00,324.03L351.00,324.68L352.00,325.36L353.00,326.09L354.00,326.84L355.00,327.64L356.00,328.46L357.00,329.31L358.00,330.20L359.00,331.11L360.00,332.05L361.00,333.01L362.00,333.99L363.00,334.98L364.00,336.00L365.00,337.03L366.00,338.07L367.00,339.11L368.00,340.17L369.00,341.22L370.00,342.28L371.00,343.33L371.00,370.40 Z" fill="#b9b9b9"/>
<line x1="40.25" y1="285.75" x2="85.00" y2="285.75" stroke="#a6a6a6" stroke-width="0.5" stroke-dasharray="2,1.3"/>
<line x1="179.50" y1="285.75" x2="243.50" y2="285.75" stroke="#a6a6a6" stroke-width="0.5" stroke-dasharray="2,1.3"/>
<rect x="85.00" y="277.40" width="94.50" height="17.10" fill="#305142" fill-opacity="0.7" stroke="#2a463a" stroke-opacity="0.8" stroke-width="0.6"/>
<line x1="153.25" y1="277.40" x2="153.25" y2="294.50" stroke="#2a463a" stroke-opacity="0.35" stroke-width="0.6"/>
<line x1="40.25" y1="281.00" x2="40.25" y2="290.00" stroke="#aaa" stroke-width="0.5"/>
<line x1="243.50" y1="281.00" x2="243.50" y2="290.00" stroke="#aaa" stroke-width="0.5"/>
<circle cx="40.25" cy="285.75" r="1.15" fill="#000"/>
<circle cx="57.00" cy="285.75" r="1.15" fill="#000"/>
<circle cx="85.00" cy="285.75" r="1.15" fill="#000"/>
<circle cx="138.25" cy="283.00" r="0.95" fill="#1c2e27" fill-opacity="0.8"/>
<circle cx="137.00" cy="288.50" r="0.95" fill="#1c2e27" fill-opacity="0.8"/>
<circle cx="169.00" cy="285.75" r="0.95" fill="#1c2e27" fill-opacity="0.8"/>
<circle cx="179.50" cy="281.00" r="1.15" fill="#000"/>
<circle cx="178.25" cy="291.00" r="0.95" fill="#1c2e27" fill-opacity="0.8"/>
<circle cx="204.50" cy="285.75" r="1.15" fill="#000"/>
<circle cx="243.50" cy="285.75" r="1.15" fill="#000"/>
<line x1="197.50" y1="344.50" x2="248.50" y2="344.50" stroke="#a6a6a6" stroke-width="0.5" stroke-dasharray="2,1.3"/>
<rect x="248.50" y="335.80" width="95.50" height="17.20" fill="#c0cd02" fill-opacity="0.7" stroke="#8f9a10" stroke-opacity="0.8" stroke-width="0.6"/>
<line x1="294.50" y1="335.80" x2="294.50" y2="353.00" stroke="#8f9a10" stroke-opacity="0.35" stroke-width="0.6"/>
<line x1="197.50" y1="340.00" x2="197.50" y2="349.00" stroke="#aaa" stroke-width="0.5"/>
<line x1="347.50" y1="341.00" x2="347.50" y2="348.00" stroke="#aaa" stroke-width="0.5"/>
<circle cx="197.50" cy="344.50" r="1.15" fill="#000"/>
<circle cx="248.25" cy="344.50" r="1.15" fill="#000"/>
<circle cx="287.25" cy="344.50" r="0.95" fill="#7e8a10" fill-opacity="0.8"/>
<circle cx="302.00" cy="344.50" r="0.95" fill="#7e8a10" fill-opacity="0.8"/>
<circle cx="344.25" cy="347.00" r="1.15" fill="#000"/>
<circle cx="347.50" cy="341.50" r="1.15" fill="#000"/>
<path d="M24.50,227.00 V402.50 H372.00" fill="none" stroke="#303030" stroke-width="1.3"/>
<line x1="40.50" y1="402.50" x2="40.50" y2="398.50" stroke="#303030" stroke-width="1"/>
<text x="40.50" y="415.00" font-family="Liberation Sans, sans-serif" font-size="9.5" text-anchor="middle" fill="#262626">0.2</text>
<line x1="75.62" y1="402.50" x2="75.62" y2="398.50" stroke="#303030" stroke-width="1"/>
<text x="75.62" y="415.00" font-family="Liberation Sans, sans-serif" font-size="9.5" text-anchor="middle" fill="#262626">0.25</text>
<line x1="110.75" y1="402.50" x2="110.75" y2="398.50" stroke="#303030" stroke-width="1"/>
<text x="110.75" y="415.00" font-family="Liberation Sans, sans-serif" font-size="9.5" text-anchor="middle" fill="#262626">0.3</text>
<line x1="145.87" y1="402.50" x2="145.87" y2="398.50" stroke="#303030" stroke-width="1"/>
<text x="145.87" y="415.00" font-family="Liberation Sans, sans-serif" font-size="9.5" text-anchor="middle" fill="#262626">0.35</text>
<line x1="181.00" y1="402.50" x2="181.00" y2="398.50" stroke="#303030" stroke-width="1"/>
<text x="181.00" y="415.00" font-family="Liberation Sans, sans-serif" font-size="9.5" text-anchor="middle" fill="#262626">0.4</text>
<line x1="216.12" y1="402.50" x2="216.12" y2="398.50" stroke="#303030" stroke-width="1"/>
<text x="216.12" y="415.00" font-family="Liberation Sans, sans-serif" font-size="9.5" text-anchor="middle" fill="#262626">0.45</text>
<line x1="251.25" y1="402.50" x2="251.25" y2="398.50" stroke="#303030" stroke-width="1"/>
<text x="251.25" y="415.00" font-family="Liberation Sans, sans-serif" font-size="9.5" text-anchor="middle" fill="#262626">0.5</text>
<line x1="286.38" y1="402.50" x2="286.38" y2="398.50" stroke="#303030" stroke-width="1"/>
<text x="286.38" y="415.00" font-family="Liberation Sans, sans-serif" font-size="9.5" text-anchor="middle" fill="#262626">0.55</text>
<line x1="321.50" y1="402.50" x2="321.50" y2="398.50" stroke="#303030" stroke-width="1"/>
<text x="321.50" y="415.00" font-family="Liberation Sans, sans-serif" font-size="9.5" text-anchor="middle" fill="#262626">0.6</text>
<line x1="356.62" y1="402.50" x2="356.62" y2="398.50" stroke="#303030" stroke-width="1"/>
<text x="356.62" y="415.00" font-family="Liberation Sans, sans-serif" font-size="9.5" text-anchor="middle" fill="#262626">0.65</text>
<line x1="24.50" y1="285.75" x2="28.50" y2="285.75" stroke="#303030" stroke-width="1"/>
<text x="21.20" y="289.65" font-family="Liberation Sans, sans-serif" font-size="9.5" text-anchor="end" fill="#262626">CLIS</text>
<line x1="24.50" y1="344.50" x2="28.50" y2="344.50" stroke="#303030" stroke-width="1"/>
<text x="21.20" y="348.40" font-family="Liberation Sans, sans-serif" font-size="9.5" text-anchor="end" fill="#262626">HC</text>
<text x="198.50" y="427.50" font-family="Liberation Sans, sans-serif" font-size="10.2" text-anchor="middle" fill="#262626">mLZC</text>
<line x1="374.25" y1="272.50" x2="374.25" y2="368.75" stroke="#222" stroke-width="1.2"/>
<path d="M385.10,322.40 L385.10,319.40 M385.10,322.40 L387.95,321.47 M385.10,322.40 L386.86,324.83 M385.10,322.40 L383.34,324.83 M385.10,322.40 L382.25,321.47 " stroke="#151515" stroke-width="1.25" fill="none"/>
<text x="1.50" y="228.20" font-family="Liberation Sans, sans-serif" font-size="14" font-weight="bold" fill="#111">c</text>
<path d="M432.60,312.60L432.60,312.21L433.60,312.17L434.60,312.13L435.60,312.08L436.60,312.03L437.60,311.98L438.60,311.92L439.60,311.85L440.60,311.79L441.60,311.71L442.60,311.63L443.60,311.55L444.60,311.46L445.60,311.36L446.60,311.26L447.60,311.15L448.60,311.04L449.60,310.91L450.60,310.78L451.60,310.65L452.60,310.50L453.60,310.35L454.60,310.19L455.60,310.01L456.60,309.84L457.60,309.65L458.60,309.45L459.60,309.25L460.60,309.03L461.60,308.81L462.60,308.58L463.60,308.34L464.60,308.09L465.60,307.84L466.60,307.57L467.60,307.30L468.60,307.02L469.60,306.73L470.60,306.44L471.60,306.14L472.60,305.83L473.60,305.51L474.60,305.20L475.60,304.87L476.60,304.55L477.60,304.22L478.60,303.89L479.60,303.55L480.60,303.22L481.60,302.88L482.60,302.55L483.60,302.22L484.60,301.89L485.60,301.56L486.60,301.24L487.60,300.92L488.60,300.61L489.60,300.31L490.60,300.01L491.60,299.72L492.60,299.45L493.60,299.18L494.60,298.92L495.60,298.68L496.60,298.45L497.60,298.23L498.60,298.03L499.60,297.84L500.60,297.67L501.60,297.51L502.60,297.37L503.60,297.25L504.60,297.14L505.60,297.05L506.60,296.97L507.60,296.91L508.60,296.87L509.60,296.84L510.60,296.83L511.60,296.83L512.60,296.85L513.60,296.88L514.60,296.93L515.60,296.99L516.60,297.06L517.60,297.13L518.60,297.22L519.60,297.32L520.60,297.42L521.60,297.53L522.60,297.64L523.60,297.76L524.60,297.87L525.60,297.99L526.60,298.10L527.60,298.21L528.60,298.31L529.60,298.41L530.60,298.49L531.60,298.57L532.60,298.63L533.60,298.68L534.60,298.71L535.60,298.72L536.60,298.72L537.60,298.69L538.60,298.64L539.60,298.57L540.60,298.47L541.60,298.35L542.60,298.20L543.60,298.01L544.60,297.80L545.60,297.56L546.60,297.28L547.60,296.97L548.60,296.63L549.60,296.25L550.60,295.84L551.60,295.39L552.60,294.91L553.60,294.40L554.60,293.85L555.60,293.27L556.60,292.65L557.60,292.00L558.60,291.32L559.60,290.61L560.60,289.87L561.60,289.10L562.60,288.30L563.60,287.48L564.60,286.64L565.60,285.77L566.60,284.88L567.60,283.98L568.60,283.06L569.60,282.13L570.60,281.19L571.60,280.24L572.60,279.28L573.60,278.32L574.60,277.36L575.60,276.41L576.60,275.46L577.60,274.51L578.60,273.58L579.60,272.67L580.60,271.76L581.60,270.88L582.60,270.02L583.60,269.18L584.60,268.37L585.60,267.59L586.60,266.84L587.60,266.12L588.60,265.44L589.60,264.79L590.60,264.19L591.60,263.62L592.60,263.09L593.60,262.61L594.60,262.17L595.60,261.77L596.60,261.42L597.60,261.11L598.60,260.85L599.60,260.63L600.60,260.46L601.60,260.33L602.60,260.25L603.60,260.20L604.60,260.21L605.60,260.25L606.60,260.33L607.60,260.45L608.60,260.61L609.60,260.81L610.60,261.04L611.60,261.30L612.60,261.59L613.60,261.91L614.60,262.25L615.60,262.62L616.60,263.01L617.60,263.42L618.60,263.84L619.60,264.28L620.60,264.73L621.60,265.20L622.60,265.67L623.60,266.14L624.60,266.62L625.60,267.10L626.60,267.58L627.60,268.06L628.60,268.53L629.60,269.00L630.60,269.46L631.60,269.90L632.60,270.34L633.60,270.76L634.60,271.17L635.60,271.56L636.60,271.93L637.60,272.28L638.60,272.62L639.60,272.93L640.60,273.23L641.60,273.50L642.60,273.75L643.60,273.98L644.60,274.18L645.60,274.36L646.60,274.52L647.60,274.65L648.60,274.76L649.60,274.84L650.60,274.90L651.60,274.94L652.60,274.95L653.60,274.94L654.60,274.91L655.60,274.86L656.60,274.79L657.60,274.70L658.60,274.58L659.60,274.45L660.60,274.30L661.60,274.14L662.60,273.96L663.60,273.76L664.60,273.55L665.60,273.33L666.60,273.10L667.60,272.85L668.60,272.60L669.60,272.34L670.60,272.07L671.60,271.79L672.60,271.51L673.60,271.23L674.60,270.94L675.60,270.66L676.60,270.37L677.60,270.08L678.60,269.80L679.60,269.52L680.60,269.24L681.60,268.96L682.60,268.70L683.60,268.44L684.60,268.18L685.60,267.94L686.60,267.70L687.60,267.47L688.60,267.26L689.60,267.05L690.60,266.86L691.60,266.67L692.60,266.50L693.60,266.34L694.60,266.20L695.60,266.06L696.60,265.94L697.60,265.83L698.60,265.74L699.60,265.65L700.60,265.58L701.60,265.53L702.60,265.48L703.60,265.45L704.60,265.43L705.60,265.43L706.60,265.43L707.60,265.45L708.60,265.47L709.60,265.51L710.60,265.56L711.60,265.62L712.60,265.69L713.60,265.77L714.60,265.86L715.60,265.96L716.60,266.07L717.60,266.19L718.60,266.31L719.60,266.44L720.60,266.59L721.60,266.74L722.60,266.89L723.60,267.06L724.60,267.23L725.60,267.41L726.60,267.60L727.60,267.80L728.60,268.00L729.60,268.22L730.60,268.44L731.60,268.66L732.60,268.90L733.60,269.15L734.60,269.40L735.60,269.67L736.60,269.94L737.60,270.23L738.60,270.52L739.60,270.82L740.60,271.14L741.60,271.47L742.60,271.80L743.60,272.15L744.60,272.51L745.60,272.89L746.60,273.27L747.60,273.67L748.60,274.08L749.60,274.50L750.60,274.94L751.60,275.39L752.60,275.85L753.60,276.33L754.60,276.82L755.60,277.32L756.60,277.84L757.60,278.37L758.60,278.91L759.60,279.46L760.60,280.03L761.60,280.60L762.60,281.19L763.60,281.79L764.60,282.40L765.60,283.02L766.60,283.64L767.60,284.28L768.60,284.92L769.60,285.57L770.60,286.22L771.60,286.88L772.60,287.54L773.60,288.21L774.60,288.88L775.60,289.55L776.60,290.22L777.60,290.89L778.60,291.56L778.60,312.60 Z" fill="#b9b9b9"/>
<path d="M432.60,370.75L432.60,369.66L433.60,369.18L434.60,368.53L435.60,367.70L436.60,366.66L437.60,365.40L438.60,363.92L439.60,362.26L440.60,360.46L441.60,358.58L442.60,356.72L443.60,354.97L444.60,353.45L445.60,352.26L446.60,351.47L447.60,351.16L448.60,351.33L449.60,351.98L450.60,353.06L451.60,354.49L452.60,356.18L453.60,358.01L454.60,359.90L455.60,361.73L456.60,363.44L457.60,364.98L458.60,366.30L459.60,367.41L460.60,368.30L461.60,369.00L462.60,369.53L463.60,369.92L464.60,370.20L465.60,370.40L466.60,370.75L467.60,370.75L468.60,370.75L469.60,370.75L470.60,370.75L471.60,370.75L472.60,370.75L473.60,370.75L474.60,370.75L475.60,370.75L476.60,370.75L477.60,370.75L478.60,370.75L479.60,370.75L480.60,370.75L481.60,370.75L482.60,370.75L483.60,370.75L484.60,370.75L485.60,370.75L486.60,370.75L487.60,370.75L488.60,370.75L489.60,370.75L490.60,370.75L491.60,370.75L492.60,370.75L493.60,370.75L494.60,370.75L495.60,370.37L496.60,370.16L497.60,369.85L498.60,369.39L499.60,368.76L500.60,367.91L501.60,366.77L502.60,365.29L503.60,363.43L504.60,361.13L505.60,358.38L506.60,355.17L507.60,351.52L508.60,347.49L509.60,343.16L510.60,338.67L511.60,334.16L512.60,329.83L513.60,325.86L514.60,322.47L515.60,319.83L516.60,318.09L517.60,317.38L518.60,317.73L519.60,319.14L520.60,321.51L521.60,324.70L522.60,328.52L523.60,332.71L524.60,337.04L525.60,341.25L526.60,345.11L527.60,348.45L528.60,351.13L529.60,353.09L530.60,354.32L531.60,354.86L532.60,354.81L533.60,354.32L534.60,353.53L535.60,352.64L536.60,351.80L537.60,351.17L538.60,350.85L539.60,350.94L540.60,351.45L541.60,352.38L542.60,353.69L543.60,355.28L544.60,357.07L545.60,358.95L546.60,360.82L547.60,362.60L548.60,364.23L549.60,365.67L550.60,366.88L551.60,367.88L552.60,368.67L553.60,369.29L554.60,369.74L555.60,370.07L556.60,370.31L557.60,370.47L558.60,370.75L559.60,370.75L560.60,370.75L561.60,370.75L562.60,370.75L563.60,370.75L564.60,370.75L565.60,370.75L566.60,370.75L567.60,370.75L568.60,370.75L569.60,370.75L570.60,370.75L571.60,370.75L572.60,370.75L573.60,370.75L574.60,370.75L575.60,370.75L576.60,370.75L577.60,370.75L578.60,370.75L579.60,370.75L580.60,370.75L581.60,370.75L582.60,370.75L583.60,370.75L584.60,370.75L585.60,370.75L586.60,370.75L587.60,370.75L588.60,370.75L589.60,370.75L590.60,370.75L591.60,370.75L592.60,370.75L593.60,370.75L594.60,370.75L595.60,370.75L596.60,370.75L597.60,370.75L598.60,370.75L599.60,370.75L600.60,370.75L601.60,370.75L602.60,370.75L603.60,370.75L604.60,370.75L605.60,370.75L606.60,370.75L607.60,370.75L608.60,370.75L609.60,370.75L610.60,370.75L611.60,370.75L612.60,370.75L613.60,370.75L614.60,370.75L615.60,370.75L616.60,370.75L617.60,370.75L618.60,370.75L619.60,370.75L620.60,370.75L621.60,370.75L622.60,370.75L623.60,370.75L624.60,370.75L625.60,370.75L626.60,370.75L627.60,370.75L628.60,370.75L629.60,370.75L630.60,370.75L631.60,370.75L632.60,370.75L633.60,370.75L634.60,370.75L635.60,370.75L636.60,370.75L637.60,370.36L638.60,370.15L639.60,369.85L640.60,369.44L641.60,368.88L642.60,368.14L643.60,367.20L644.60,366.05L645.60,364.69L646.60,363.11L647.60,361.37L648.60,359.52L649.60,357.64L650.60,355.82L651.60,354.18L652.60,352.81L653.60,351.81L654.60,351.25L655.60,351.18L656.60,351.59L657.60,352.47L658.60,353.73L659.60,355.31L660.60,357.08L661.60,358.96L662.60,360.83L663.60,362.61L664.60,364.23L665.60,365.67L666.60,366.88L667.60,367.88L668.60,368.67L669.60,369.29L670.60,369.74L671.60,370.07L672.60,370.31L673.60,370.47L674.60,370.75L675.60,370.75L676.60,370.75L677.60,370.75L678.60,370.75L679.60,370.75L680.60,370.75L681.60,370.75L682.60,370.75L683.60,370.75L684.60,370.75L685.60,370.75L686.60,370.75L687.60,370.75L688.60,370.75L689.60,370.75L690.60,370.75L691.60,370.75L692.60,370.75L693.60,370.75L694.60,370.75L695.60,370.75L696.60,370.75L697.60,370.75L698.60,370.75L699.60,370.75L699.60,370.75 Z" fill="#b9b9b9"/>
<line x1="508.50" y1="286.25" x2="596.50" y2="286.25" stroke="#a6a6a6" stroke-width="0.5" stroke-dasharray="2,1.3"/>
<line x1="717.75" y1="286.25" x2="763.75" y2="286.25" stroke="#a6a6a6" stroke-width="0.5" stroke-dasharray="2,1.3"/>
<rect x="596.50" y="277.40" width="121.25" height="17.30" fill="#305142" fill-opacity="0.7" stroke="#2a463a" stroke-opacity="0.8" stroke-width="0.6"/>
<line x1="655.25" y1="277.40" x2="655.25" y2="294.70" stroke="#2a463a" stroke-opacity="0.35" stroke-width="0.6"/>
<line x1="508.50" y1="282.00" x2="508.50" y2="291.00" stroke="#aaa" stroke-width="0.5"/>
<line x1="763.75" y1="282.00" x2="763.75" y2="291.00" stroke="#aaa" stroke-width="0.5"/>
<circle cx="508.50" cy="286.25" r="1.15" fill="#000"/>
<circle cx="593.00" cy="286.00" r="1.15" fill="#000"/>
<circle cx="596.50" cy="291.50" r="1.15" fill="#000"/>
<circle cx="602.50" cy="281.00" r="0.95" fill="#1c2e27" fill-opacity="0.8"/>
<circle cx="634.50" cy="286.25" r="0.95" fill="#1c2e27" fill-opacity="0.8"/>
<circle cx="676.00" cy="286.25" r="0.95" fill="#1c2e27" fill-opacity="0.8"/>
<circle cx="697.50" cy="286.25" r="0.95" fill="#1c2e27" fill-opacity="0.8"/>
<circle cx="717.75" cy="286.25" r="1.15" fill="#000"/>
<circle cx="741.25" cy="286.25" r="1.15" fill="#000"/>
<circle cx="763.75" cy="286.25" r="1.15" fill="#000"/>
<rect x="513.20" y="336.20" width="25.55" height="17.00" fill="#c0cd02" fill-opacity="0.7" stroke="#8f9a10" stroke-opacity="0.8" stroke-width="0.6"/>
<line x1="520.00" y1="336.20" x2="520.00" y2="353.20" stroke="#8f9a10" stroke-opacity="0.35" stroke-width="0.6"/>
<circle cx="447.75" cy="344.50" r="1.15" fill="#000"/>
<circle cx="512.50" cy="344.50" r="1.15" fill="#000"/>
<circle cx="520.00" cy="340.00" r="0.95" fill="#7e8a10" fill-opacity="0.8"/>
<circle cx="520.00" cy="349.50" r="0.95" fill="#7e8a10" fill-opacity="0.8"/>
<circle cx="539.25" cy="344.50" r="1.15" fill="#000"/>
<circle cx="655.25" cy="344.50" r="1.15" fill="#000"/>
<path d="M432.00,227.50 V402.50 H780.00" fill="none" stroke="#303030" stroke-width="1.3"/>
<line x1="451.50" y1="402.50" x2="451.50" y2="398.50" stroke="#303030" stroke-width="1"/>
<text x="451.50" y="415.40" font-family="Liberation Sans, sans-serif" font-size="9.5" text-anchor="middle" fill="#262626">0.12</text>
<line x1="489.50" y1="402.50" x2="489.50" y2="398.50" stroke="#303030" stroke-width="1"/>
<text x="489.50" y="415.40" font-family="Liberation Sans, sans-serif" font-size="9.5" text-anchor="middle" fill="#262626">0.14</text>
<line x1="527.50" y1="402.50" x2="527.50" y2="398.50" stroke="#303030" stroke-width="1"/>
<text x="527.50" y="415.40" font-family="Liberation Sans, sans-serif" font-size="9.5" text-anchor="middle" fill="#262626">0.16</text>
<line x1="565.50" y1="402.50" x2="565.50" y2="398.50" stroke="#303030" stroke-width="1"/>
<text x="565.50" y="415.40" font-family="Liberation Sans, sans-serif" font-size="9.5" text-anchor="middle" fill="#262626">0.18</text>
<line x1="603.50" y1="402.50" x2="603.50" y2="398.50" stroke="#303030" stroke-width="1"/>
<text x="603.50" y="415.40" font-family="Liberation Sans, sans-serif" font-size="9.5" text-anchor="middle" fill="#262626">0.2</text>
<line x1="641.50" y1="402.50" x2="641.50" y2="398.50" stroke="#303030" stroke-width="1"/>
<text x="641.50" y="415.40" font-family="Liberation Sans, sans-serif" font-size="9.5" text-anchor="middle" fill="#262626">0.22</text>
<line x1="679.50" y1="402.50" x2="679.50" y2="398.50" stroke="#303030" stroke-width="1"/>
<text x="679.50" y="415.40" font-family="Liberation Sans, sans-serif" font-size="9.5" text-anchor="middle" fill="#262626">0.24</text>
<line x1="717.50" y1="402.50" x2="717.50" y2="398.50" stroke="#303030" stroke-width="1"/>
<text x="717.50" y="415.40" font-family="Liberation Sans, sans-serif" font-size="9.5" text-anchor="middle" fill="#262626">0.26</text>
<line x1="755.50" y1="402.50" x2="755.50" y2="398.50" stroke="#303030" stroke-width="1"/>
<text x="755.50" y="415.40" font-family="Liberation Sans, sans-serif" font-size="9.5" text-anchor="middle" fill="#262626">0.28</text>
<line x1="432.00" y1="286.25" x2="436.00" y2="286.25" stroke="#303030" stroke-width="1"/>
<text x="428.70" y="290.15" font-family="Liberation Sans, sans-serif" font-size="9.5" text-anchor="end" fill="#262626">CLIS</text>
<line x1="432.00" y1="345.00" x2="436.00" y2="345.00" stroke="#303030" stroke-width="1"/>
<text x="428.70" y="348.90" font-family="Liberation Sans, sans-serif" font-size="9.5" text-anchor="end" fill="#262626">HC</text>
<text x="605.50" y="427.60" font-family="Liberation Sans, sans-serif" font-size="10.2" text-anchor="middle" fill="#262626">cvLZC</text>
<line x1="784.50" y1="282.50" x2="784.50" y2="378.75" stroke="#222" stroke-width="1.2"/>
<path d="M795.60,332.30 L795.60,329.30 M795.60,332.30 L798.45,331.37 M795.60,332.30 L797.36,334.73 M795.60,332.30 L793.84,334.73 M795.60,332.30 L792.75,331.37 " stroke="#151515" stroke-width="1.25" fill="none"/>
<text x="399.50" y="228.20" font-family="Liberation Sans, sans-serif" font-size="14"  fill="#111">d</text>
<rect x="34.5" y="4.2" width="87.4" height="41" fill="#fff" stroke="#707070" stroke-width="0.9"/>
<text x="42.6" y="21.3" font-family="Liberation Sans, sans-serif" font-size="13.85" fill="#111">Healthy = 6</text>
<text x="42.6" y="37.6" font-family="Liberation Sans, sans-serif" font-size="13.85" fill="#111">CLIS = 10</text>
<rect x="285.50" y="455.40" width="264.50" height="256.60" fill="#fff"/>
<line x1="285.50" y1="498.10" x2="550.00" y2="498.10" stroke="#e8e8e8" stroke-width="0.8"/>
<line x1="285.50" y1="540.80" x2="550.00" y2="540.80" stroke="#e8e8e8" stroke-width="0.8"/>
<line x1="285.50" y1="583.50" x2="550.00" y2="583.50" stroke="#e8e8e8" stroke-width="0.8"/>
<line x1="285.50" y1="626.30" x2="550.00" y2="626.30" stroke="#e8e8e8" stroke-width="0.8"/>
<line x1="285.50" y1="669.10" x2="550.00" y2="669.10" stroke="#e8e8e8" stroke-width="0.8"/>
<line x1="463.25" y1="455.40" x2="463.25" y2="712.00" stroke="#e8e8e8" stroke-width="0.8"/>
<line x1="518.25" y1="455.40" x2="518.25" y2="712.00" stroke="#e8e8e8" stroke-width="0.8"/>
<clipPath id="ce"><rect x="285.50" y="455.40" width="264.50" height="256.60"/></clipPath>
<g clip-path="url(#ce)">
<polygon points="285.50,472.11 286.25,472.22 287.00,472.38 287.75,472.56 288.50,472.77 289.25,472.99 290.00,473.22 290.75,473.46 291.50,473.72 292.25,473.98 293.00,474.25 293.75,474.53 294.50,474.82 295.25,475.12 296.00,475.43 296.75,475.76 297.50,476.11 298.25,476.47 299.00,476.85 299.75,477.24 300.50,477.64 301.25,478.05 302.00,478.48 302.75,478.91 303.50,479.36 304.25,479.82 305.00,480.30 305.75,480.80 306.50,481.30 307.25,481.81 308.00,482.34 308.75,482.87 309.50,483.40 310.25,483.94 311.00,484.49 311.75,485.06 312.50,485.63 313.25,486.21 314.00,486.79 314.75,487.37 315.50,487.96 316.25,488.54 317.00,489.11 317.75,489.68 318.50,490.25 319.25,490.81 320.00,491.37 320.75,491.92 321.50,492.48 322.25,493.03 323.00,493.57 323.75,494.11 324.50,494.64 325.25,495.17 326.00,495.70 326.75,496.23 327.50,496.75 328.25,497.27 329.00,497.78 329.75,498.28 330.50,498.76 331.25,499.23 332.00,499.69 332.75,500.13 333.50,500.55 334.25,500.97 335.00,501.37 335.75,501.76 336.50,502.15 337.25,502.51 338.00,502.87 338.75,503.20 339.50,503.52 340.25,503.82 341.00,504.11 341.75,504.37 342.50,504.63 343.25,504.87 344.00,505.11 344.75,505.35 345.50,505.58 346.25,505.83 347.00,506.08 347.75,506.35 348.50,506.61 349.25,506.89 350.00,507.17 350.75,507.46 351.50,507.76 352.25,508.08 353.00,508.42 353.75,508.80 354.50,509.22 355.25,509.67 356.00,510.16 356.75,510.68 357.50,511.21 358.25,511.75 359.00,512.29 359.75,512.82 360.50,513.34 361.25,513.86 362.00,514.37 362.75,514.87 363.50,515.35 364.25,515.80 365.00,516.21 365.75,516.60 366.50,516.97 367.25,517.31 368.00,517.64 368.75,517.94 369.50,518.21 370.25,518.45 371.00,518.66 371.75,518.84 372.50,519.00 373.25,519.15 374.00,519.27 374.75,519.36 375.50,519.43 376.25,519.47 377.00,519.49 377.75,519.50 378.50,519.50 379.25,519.51 380.00,519.54 380.75,519.59 381.50,519.67 382.25,519.80 383.00,519.96 383.75,520.16 384.50,520.40 385.25,520.68 386.00,521.03 386.75,521.45 387.50,521.93 388.25,522.46 389.00,523.01 389.75,523.57 390.50,524.13 391.25,524.71 392.00,525.29 392.75,525.86 393.50,526.42 394.25,526.96 395.00,527.45 395.75,527.92 396.50,528.35 397.25,528.75 398.00,529.13 398.75,529.47 399.50,529.77 400.25,530.04 401.00,530.27 401.75,530.47 402.50,530.66 403.25,530.84 404.00,531.02 404.75,531.22 405.50,531.43 406.25,531.67 407.00,531.92 407.75,532.18 408.50,532.42 409.25,532.63 410.00,532.79 410.75,532.89 411.50,532.93 412.25,532.91 413.00,532.86 413.75,532.76 414.50,532.64 415.25,532.50 416.00,532.34 416.75,532.16 417.50,531.95 418.25,531.71 419.00,531.42 419.75,531.08 420.50,530.70 421.25,530.28 422.00,529.84 422.75,529.37 423.50,528.87 424.25,528.35 425.00,527.78 425.75,527.17 426.50,526.54 427.25,525.89 428.00,525.27 428.75,524.68 429.50,524.13 430.25,523.63 431.00,523.17 431.75,522.77 432.50,522.45 433.25,522.25 434.00,522.18 434.75,522.23 435.50,522.40 436.25,522.64 437.00,522.94 437.75,523.29 438.50,523.68 439.25,524.12 440.00,524.61 440.75,525.18 441.50,525.79 442.25,526.44 443.00,527.09 443.75,527.73 444.50,528.34 445.25,528.93 446.00,529.51 446.75,530.08 447.50,530.64 448.25,531.17 449.00,531.62 449.75,531.99 450.50,532.23 451.25,532.35 452.00,532.36 452.75,532.28 453.50,532.14 454.25,531.93 455.00,531.67 455.75,531.33 456.50,530.87 457.25,530.28 458.00,529.56 458.75,528.81 459.50,528.09 460.25,527.46 461.00,526.94 461.75,526.51 462.50,526.19 463.25,525.97 464.00,525.88 464.75,525.89 465.50,526.00 466.25,526.24 467.00,526.69 467.75,527.44 468.50,528.50 469.25,529.82 470.00,531.32 470.75,532.91 471.50,534.61 472.25,536.39 473.00,538.21 473.75,540.06 474.50,541.88 475.25,543.69 476.00,545.48 476.75,547.14 477.50,548.78 478.25,550.43 479.00,551.85 479.75,553.39 480.50,554.92 481.25,556.17 482.00,557.35 482.75,558.28 483.50,559.30 484.25,560.46 485.00,561.47 485.75,562.25 486.50,562.77 487.25,563.42 488.00,564.09 488.75,564.38 489.50,564.37 490.25,564.84 491.00,565.34 491.75,565.22 492.50,565.41 493.25,565.61 494.00,565.76 494.75,565.57 495.50,565.35 496.25,565.06 497.00,565.52 497.75,565.74 498.50,565.33 499.25,565.48 500.00,565.20 500.75,564.62 501.50,564.25 502.25,564.87 503.00,564.80 503.75,564.49 504.50,564.34 505.25,564.74 506.00,565.44 506.75,565.47 507.50,565.66 508.25,565.66 509.00,565.64 509.75,565.64 510.50,566.41 511.25,567.32 512.00,566.96 512.75,566.45 513.50,566.41 514.25,567.16 515.00,567.20 515.75,566.07 516.50,566.60 517.25,568.42 518.00,568.71 518.75,568.81 519.50,569.66 520.25,570.58 521.00,570.94 521.75,571.49 522.50,572.69 523.25,572.57 524.00,572.34 524.75,573.09 525.50,574.01 526.25,574.66 527.00,575.44 527.75,575.46 528.50,574.63 529.25,576.20 530.00,578.36 530.75,578.80 531.50,578.49 532.25,579.21 533.00,580.51 533.75,580.58 534.50,581.24 535.25,582.68 536.00,582.82 536.75,583.34 537.50,583.88 538.25,584.17 539.00,584.31 539.75,585.47 540.50,587.01 541.25,587.14 542.00,587.72 542.75,588.13 543.50,589.16 544.25,589.85 545.00,590.37 545.75,592.27 546.50,593.42 547.25,594.18 548.00,594.42 548.75,596.31 549.50,598.56 549.50,626.75 548.75,625.61 548.00,625.09 547.25,624.66 546.50,625.50 545.75,625.50 545.00,623.43 544.25,621.97 543.50,622.22 542.75,621.84 542.00,620.14 541.25,618.75 540.50,619.82 539.75,619.65 539.00,617.90 538.25,617.13 537.50,617.46 536.75,617.52 536.00,615.51 535.25,614.68 534.50,614.86 533.75,613.51 533.00,612.73 532.25,612.36 531.50,611.05 530.75,610.17 530.00,609.11 529.25,608.29 528.50,608.41 527.75,608.61 527.00,608.35 526.25,607.98 525.50,606.62 524.75,605.82 524.00,605.61 523.25,605.10 522.50,604.38 521.75,603.58 521.00,602.31 520.25,601.24 519.50,600.58 518.75,599.70 518.00,598.67 517.25,598.22 516.50,598.01 515.75,597.51 515.00,597.11 514.25,596.31 513.50,595.81 512.75,596.56 512.00,597.07 511.25,597.01 510.50,596.51 509.75,596.34 509.00,596.13 508.25,595.73 507.50,595.66 506.75,596.08 506.00,595.95 505.25,595.61 504.50,596.03 503.75,596.37 503.00,596.75 502.25,596.92 501.50,597.02 500.75,596.93 500.00,596.23 499.25,596.60 498.50,597.47 497.75,597.31 497.00,597.03 496.25,597.07 495.50,596.89 494.75,596.70 494.00,596.76 493.25,596.81 492.50,596.31 491.75,596.20 491.00,596.11 490.25,595.66 489.50,595.30 488.75,594.96 488.00,594.19 487.25,593.40 486.50,592.83 485.75,592.33 485.00,591.71 484.25,591.07 483.50,590.04 482.75,588.81 482.00,587.71 481.25,586.74 480.50,585.83 479.75,584.58 479.00,583.23 478.25,581.71 477.50,579.89 476.75,577.89 476.00,575.99 475.25,574.41 474.50,572.82 473.75,570.97 473.00,569.14 472.25,567.34 471.50,565.53 470.75,563.68 470.00,561.89 469.25,560.20 468.50,558.72 467.75,557.51 467.00,556.57 466.25,555.89 465.50,555.46 464.75,555.27 464.00,555.29 463.25,555.45 462.50,555.74 461.75,556.12 461.00,556.62 460.25,557.24 459.50,557.96 458.75,558.71 458.00,559.42 457.25,560.04 456.50,560.57 455.75,560.99 455.00,561.31 454.25,561.51 453.50,561.58 452.75,561.52 452.00,561.35 451.25,561.11 450.50,560.80 449.75,560.46 449.00,560.08 448.25,559.65 447.50,559.17 446.75,558.64 446.00,558.06 445.25,557.46 444.50,556.85 443.75,556.24 443.00,555.62 442.25,555.00 441.50,554.39 440.75,553.81 440.00,553.29 439.25,552.84 438.50,552.48 437.75,552.17 437.00,551.91 436.25,551.69 435.50,551.53 434.75,551.43 434.00,551.44 433.25,551.60 432.50,551.92 431.75,552.38 431.00,552.94 430.25,553.53 429.50,554.15 428.75,554.77 428.00,555.41 427.25,556.06 426.50,556.69 425.75,557.30 425.00,557.86 424.25,558.37 423.50,558.82 422.75,559.21 422.00,559.56 421.25,559.89 420.50,560.19 419.75,560.47 419.00,560.74 418.25,561.00 417.50,561.26 416.75,561.52 416.00,561.79 415.25,562.06 414.50,562.31 413.75,562.53 413.00,562.71 412.25,562.84 411.50,562.92 410.75,562.93 410.00,562.90 409.25,562.82 408.50,562.72 407.75,562.59 407.00,562.44 406.25,562.28 405.50,562.10 404.75,561.89 404.00,561.66 403.25,561.40 402.50,561.10 401.75,560.78 401.00,560.45 400.25,560.11 399.50,559.76 398.75,559.41 398.00,559.05 397.25,558.67 396.50,558.29 395.75,557.89 395.00,557.48 394.25,557.06 393.50,556.63 392.75,556.19 392.00,555.73 391.25,555.27 390.50,554.79 389.75,554.30 389.00,553.79 388.25,553.27 387.50,552.75 386.75,552.26 386.00,551.81 385.25,551.43 384.50,551.11 383.75,550.83 383.00,550.59 382.25,550.39 381.50,550.23 380.75,550.11 380.00,550.05 379.25,550.01 378.50,549.99 377.75,549.96 377.00,549.90 376.25,549.78 375.50,549.61 374.75,549.39 374.00,549.12 373.25,548.83 372.50,548.52 371.75,548.21 371.00,547.90 370.25,547.59 369.50,547.27 368.75,546.93 368.00,546.58 367.25,546.21 366.50,545.81 365.75,545.40 365.00,544.95 364.25,544.47 363.50,543.95 362.75,543.40 362.00,542.83 361.25,542.24 360.50,541.64 359.75,541.04 359.00,540.43 358.25,539.80 357.50,539.18 356.75,538.55 356.00,537.94 355.25,537.36 354.50,536.81 353.75,536.30 353.00,535.82 352.25,535.38 351.50,534.95 350.75,534.55 350.00,534.17 349.25,533.81 348.50,533.46 347.75,533.13 347.00,532.81 346.25,532.51 345.50,532.23 344.75,531.95 344.00,531.69 343.25,531.43 342.50,531.17 341.75,530.92 341.00,530.67 340.25,530.43 339.50,530.19 338.75,529.96 338.00,529.72 337.25,529.49 336.50,529.25 335.75,529.00 335.00,528.74 334.25,528.47 333.50,528.20 332.75,527.92 332.00,527.63 331.25,527.33 330.50,527.02 329.75,526.69 329.00,526.34 328.25,525.97 327.50,525.58 326.75,525.17 326.00,524.74 325.25,524.28 324.50,523.81 323.75,523.32 323.00,522.82 322.25,522.30 321.50,521.76 320.75,521.19 320.00,520.60 319.25,520.00 318.50,519.38 317.75,518.76 317.00,518.13 316.25,517.49 315.50,516.85 314.75,516.19 314.00,515.53 313.25,514.86 312.50,514.19 311.75,513.53 311.00,512.87 310.25,512.22 309.50,511.58 308.75,510.94 308.00,510.30 307.25,509.67 306.50,509.06 305.75,508.46 305.00,507.90 304.25,507.38 303.50,506.88 302.75,506.42 302.00,505.99 301.25,505.58 300.50,505.19 299.75,504.81 299.00,504.45 298.25,504.10 297.50,503.75 296.75,503.41 296.00,503.08 295.25,502.76 294.50,502.45 293.75,502.18 293.00,501.93 292.25,501.71 291.50,501.52 290.75,501.34 290.00,501.17 289.25,501.02 288.50,500.88 287.75,500.76 287.00,500.66 286.25,500.59 285.50,500.54" fill="#fff"/>
<polygon points="285.50,464.79 286.25,464.58 287.00,464.30 287.75,464.00 288.50,463.70 289.25,463.42 290.00,463.17 290.75,462.94 291.50,462.75 292.25,462.58 293.00,462.42 293.75,462.29 294.50,462.17 295.25,462.06 296.00,461.96 296.75,461.88 297.50,461.82 298.25,461.79 299.00,461.79 299.75,461.82 300.50,461.88 301.25,461.96 302.00,462.07 302.75,462.21 303.50,462.36 304.25,462.52 305.00,462.70 305.75,462.90 306.50,463.12 307.25,463.37 308.00,463.67 308.75,464.02 309.50,464.40 310.25,464.83 311.00,465.29 311.75,465.77 312.50,466.27 313.25,466.78 314.00,467.31 314.75,467.84 315.50,468.39 316.25,468.97 317.00,469.58 317.75,470.21 318.50,470.87 319.25,471.54 320.00,472.22 320.75,472.91 321.50,473.59 322.25,474.27 323.00,474.95 323.75,475.63 324.50,476.32 325.25,477.00 326.00,477.69 326.75,478.38 327.50,479.06 328.25,479.73 329.00,480.38 329.75,481.03 330.50,481.67 331.25,482.31 332.00,482.94 332.75,483.57 333.50,484.19 334.25,484.78 335.00,485.35 335.75,485.88 336.50,486.37 337.25,486.83 338.00,487.25 338.75,487.65 339.50,488.03 340.25,488.35 341.00,488.62 341.75,488.81 342.50,488.92 343.25,488.97 344.00,488.99 344.75,489.00 345.50,489.00 346.25,488.99 347.00,488.96 347.75,488.90 348.50,488.77 349.25,488.56 350.00,488.27 350.75,487.92 351.50,487.53 352.25,487.11 353.00,486.67 353.75,486.23 354.50,485.77 355.25,485.28 356.00,484.77 356.75,484.24 357.50,483.70 358.25,483.17 359.00,482.66 359.75,482.17 360.50,481.70 361.25,481.25 362.00,480.81 362.75,480.41 363.50,480.06 364.25,479.79 365.00,479.59 365.75,479.45 366.50,479.37 367.25,479.35 368.00,479.41 368.75,479.58 369.50,479.88 370.25,480.30 371.00,480.83 371.75,481.41 372.50,482.03 373.25,482.68 374.00,483.38 374.75,484.15 375.50,484.99 376.25,485.93 377.00,487.01 377.75,488.25 378.50,489.58 379.25,490.90 380.00,492.05 380.75,492.96 381.50,493.66 382.25,494.20 383.00,494.64 383.75,495.00 384.50,495.29 385.25,495.52 386.00,495.70 386.75,495.86 387.50,495.99 388.25,496.09 389.00,496.12 389.75,496.07 390.50,495.88 391.25,495.54 392.00,495.07 392.75,494.53 393.50,494.00 394.25,493.49 395.00,493.05 395.75,492.67 396.50,492.40 397.25,492.30 398.00,492.41 398.75,492.75 399.50,493.29 400.25,494.02 401.00,494.92 401.75,496.00 402.50,497.25 403.25,498.63 404.00,500.03 404.75,501.34 405.50,502.53 406.25,503.57 407.00,504.51 407.75,505.40 408.50,506.27 409.25,507.16 410.00,508.09 410.75,509.08 411.50,510.10 412.25,511.14 413.00,512.14 413.75,513.07 414.50,513.89 415.25,514.59 416.00,515.17 416.75,515.60 417.50,515.84 418.25,515.83 419.00,515.57 419.75,515.08 420.50,514.41 421.25,513.61 422.00,512.70 422.75,511.71 423.50,510.70 424.25,509.77 425.00,508.95 425.75,508.28 426.50,507.78 427.25,507.47 428.00,507.41 428.75,507.63 429.50,508.14 430.25,508.94 431.00,510.02 431.75,511.41 432.50,513.12 433.25,515.06 434.00,517.10 434.75,519.08 435.50,520.92 436.25,522.60 437.00,524.17 437.75,525.66 438.50,527.12 439.25,528.56 440.00,530.00 440.75,531.42 441.50,532.84 442.25,534.26 443.00,535.67 443.75,537.10 444.50,538.56 445.25,540.03 446.00,541.54 446.75,543.11 447.50,544.68 448.25,546.31 449.00,547.90 449.75,549.39 450.50,551.07 451.25,552.87 452.00,554.28 452.75,555.65 453.50,557.20 454.25,558.79 455.00,560.66 455.75,562.41 456.50,564.12 457.25,565.75 458.00,567.32 458.75,568.92 459.50,570.25 460.25,571.39 461.00,572.67 461.75,573.89 462.50,575.21 463.25,577.05 464.00,578.03 464.75,579.15 465.50,580.13 466.25,581.23 467.00,582.98 467.75,584.42 468.50,585.72 469.25,586.95 470.00,587.86 470.75,589.10 471.50,590.17 472.25,590.79 473.00,591.68 473.75,592.72 474.50,593.37 475.25,593.41 476.00,593.22 476.75,594.27 477.50,595.15 478.25,595.43 479.00,596.28 479.75,597.28 480.50,597.47 481.25,597.80 482.00,598.03 482.75,598.74 483.50,599.80 484.25,600.81 485.00,601.95 485.75,602.75 486.50,603.49 487.25,603.72 488.00,604.33 488.75,605.55 489.50,606.49 490.25,607.47 491.00,608.52 491.75,609.93 492.50,611.84 493.25,613.13 494.00,613.36 494.75,613.83 495.50,614.69 496.25,613.83 497.00,614.02 497.75,616.09 498.50,617.28 499.25,617.92 500.00,618.27 500.75,618.09 501.50,619.49 502.25,622.17 503.00,623.10 503.75,623.46 504.50,624.79 505.25,624.39 506.00,624.90 506.75,626.06 507.50,626.22 508.25,627.15 509.00,628.33 509.75,629.45 510.50,631.05 511.25,631.42 512.00,630.81 512.75,631.60 513.50,633.13 514.25,633.72 515.00,634.20 515.75,635.88 516.50,636.89 517.25,637.06 518.00,637.61 518.75,636.77 519.50,637.42 520.25,639.57 521.00,639.85 521.75,640.16 522.50,641.28 523.25,642.21 524.00,642.86 524.75,642.58 525.50,644.89 526.25,648.05 527.00,646.27 527.75,644.61 528.50,646.76 529.25,648.69 530.00,649.54 530.75,648.88 531.50,649.00 532.25,651.05 533.00,650.75 533.75,649.60 534.50,651.34 535.25,652.71 536.00,653.66 536.75,653.84 537.50,654.72 538.25,655.35 539.00,655.75 539.75,655.59 540.50,655.58 541.25,656.66 542.00,657.88 542.75,658.94 543.50,660.06 544.25,659.83 545.00,660.64 545.75,661.85 546.50,660.87 547.25,660.23 548.00,659.82 548.75,661.12 549.50,663.58 549.50,681.22 548.75,680.59 548.00,679.33 547.25,679.63 546.50,678.55 545.75,676.27 545.00,677.23 544.25,677.79 543.50,679.88 542.75,680.85 542.00,678.33 541.25,675.30 540.50,675.57 539.75,675.80 539.00,675.93 538.25,675.23 537.50,673.75 536.75,672.09 536.00,673.43 535.25,675.41 534.50,673.36 533.75,671.19 533.00,672.15 532.25,672.02 531.50,670.83 530.75,670.04 530.00,667.56 529.25,664.79 528.50,665.21 527.75,667.18 527.00,667.25 526.25,666.84 525.50,666.24 524.75,663.64 524.00,662.33 523.25,661.56 522.50,661.26 521.75,660.03 521.00,660.48 520.25,660.52 519.50,659.71 518.75,659.79 518.00,659.84 517.25,659.24 516.50,657.20 515.75,656.12 515.00,654.64 514.25,652.57 513.50,652.55 512.75,653.13 512.00,651.32 511.25,649.52 510.50,649.33 509.75,650.37 509.00,649.86 508.25,647.73 507.50,646.62 506.75,645.02 506.00,644.06 505.25,643.67 504.50,643.06 503.75,642.95 503.00,644.01 502.25,643.30 501.50,641.35 500.75,639.82 500.00,639.40 499.25,640.00 498.50,638.64 497.75,636.10 497.00,635.15 496.25,634.25 495.50,633.08 494.75,631.88 494.00,630.70 493.25,629.62 492.50,629.88 491.75,629.56 491.00,628.99 490.25,628.67 489.50,628.01 488.75,626.70 488.00,626.08 487.25,625.04 486.50,624.83 485.75,624.40 485.00,623.44 484.25,623.61 483.50,623.01 482.75,621.98 482.00,621.08 481.25,620.57 480.50,619.67 479.75,619.53 479.00,619.40 478.25,617.70 477.50,616.62 476.75,616.18 476.00,615.60 475.25,615.21 474.50,614.07 473.75,613.19 473.00,613.53 472.25,612.91 471.50,612.22 470.75,611.45 470.00,610.07 469.25,608.89 468.50,607.37 467.75,605.78 467.00,604.71 466.25,603.56 465.50,601.51 464.75,599.86 464.00,598.98 463.25,597.98 462.50,596.98 461.75,596.16 461.00,595.28 460.25,593.49 459.50,591.73 458.75,590.43 458.00,588.94 457.25,587.18 456.50,585.59 455.75,583.69 455.00,581.85 454.25,580.60 453.50,579.01 452.75,577.30 452.00,575.44 451.25,573.74 450.50,572.17 449.75,570.67 449.00,569.22 448.25,567.75 447.50,566.29 446.75,564.76 446.00,563.26 445.25,561.76 444.50,560.25 443.75,558.75 443.00,557.25 442.25,555.75 441.50,554.26 440.75,552.78 440.00,551.31 439.25,549.84 438.50,548.36 437.75,546.84 437.00,545.24 436.25,543.54 435.50,541.73 434.75,539.85 434.00,538.00 433.25,536.30 432.50,534.81 431.75,533.56 431.00,532.52 430.25,531.71 429.50,531.16 428.75,530.89 428.00,530.90 427.25,531.13 426.50,531.52 425.75,532.02 425.00,532.59 424.25,533.24 423.50,533.95 422.75,534.71 422.00,535.47 421.25,536.23 420.50,536.94 419.75,537.57 419.00,538.04 418.25,538.26 417.50,538.18 416.75,537.81 416.00,537.22 415.25,536.50 414.50,535.73 413.75,534.92 413.00,534.09 412.25,533.22 411.50,532.33 410.75,531.41 410.00,530.48 409.25,529.52 408.50,528.55 407.75,527.55 407.00,526.53 406.25,525.49 405.50,524.42 404.75,523.31 404.00,522.17 403.25,520.99 402.50,519.82 401.75,518.68 401.00,517.62 400.25,516.65 399.50,515.79 398.75,515.06 398.00,514.53 397.25,514.28 396.50,514.34 395.75,514.68 395.00,515.19 394.25,515.74 393.50,516.24 392.75,516.64 392.00,516.96 391.25,517.18 390.50,517.30 389.75,517.30 389.00,517.16 388.25,516.90 387.50,516.54 386.75,516.11 386.00,515.65 385.25,515.17 384.50,514.69 383.75,514.21 383.00,513.70 382.25,513.15 381.50,512.54 380.75,511.83 380.00,511.01 379.25,510.06 378.50,509.03 377.75,508.01 377.00,507.05 376.25,506.19 375.50,505.41 374.75,504.71 374.00,504.09 373.25,503.54 372.50,503.07 371.75,502.66 371.00,502.29 370.25,501.98 369.50,501.71 368.75,501.51 368.00,501.39 367.25,501.36 366.50,501.41 365.75,501.53 365.00,501.70 364.25,501.92 363.50,502.17 362.75,502.46 362.00,502.78 361.25,503.16 360.50,503.59 359.75,504.06 359.00,504.54 358.25,505.02 357.50,505.48 356.75,505.94 356.00,506.40 355.25,506.84 354.50,507.28 353.75,507.68 353.00,508.05 352.25,508.36 351.50,508.62 350.75,508.83 350.00,509.00 349.25,509.15 348.50,509.27 347.75,509.36 347.00,509.42 346.25,509.42 345.50,509.36 344.75,509.24 344.00,509.06 343.25,508.83 342.50,508.55 341.75,508.25 341.00,507.93 340.25,507.59 339.50,507.23 338.75,506.84 338.00,506.42 337.25,505.97 336.50,505.49 335.75,504.99 335.00,504.49 334.25,503.97 333.50,503.43 332.75,502.88 332.00,502.31 331.25,501.74 330.50,501.15 329.75,500.55 329.00,499.95 328.25,499.35 327.50,498.74 326.75,498.13 326.00,497.50 325.25,496.87 324.50,496.24 323.75,495.60 323.00,494.96 322.25,494.33 321.50,493.71 320.75,493.10 320.00,492.50 319.25,491.90 318.50,491.30 317.75,490.69 317.00,490.08 316.25,489.48 315.50,488.89 314.75,488.31 314.00,487.76 313.25,487.25 312.50,486.77 311.75,486.35 311.00,485.97 310.25,485.64 309.50,485.35 308.75,485.09 308.00,484.84 307.25,484.60 306.50,484.37 305.75,484.15 305.00,483.95 304.25,483.76 303.50,483.59 302.75,483.44 302.00,483.31 301.25,483.20 300.50,483.12 299.75,483.06 299.00,483.03 298.25,483.01 297.50,483.00 296.75,483.01 296.00,483.01 295.25,483.02 294.50,483.03 293.75,483.05 293.00,483.07 292.25,483.10 291.50,483.13 290.75,483.18 290.00,483.23 289.25,483.29 288.50,483.36 287.75,483.44 287.00,483.53 286.25,483.61 285.50,483.68" fill="#fff"/>
<polygon points="285.50,472.11 286.25,472.22 287.00,472.38 287.75,472.56 288.50,472.77 289.25,472.99 290.00,473.22 290.75,473.46 291.50,473.72 292.25,473.98 293.00,474.25 293.75,474.53 294.50,474.82 295.25,475.12 296.00,475.43 296.75,475.76 297.50,476.11 298.25,476.47 299.00,476.85 299.75,477.24 300.50,477.64 301.25,478.05 302.00,478.48 302.75,478.91 303.50,479.36 304.25,479.82 305.00,480.30 305.75,480.80 306.50,481.30 307.25,481.81 308.00,482.34 308.75,482.87 309.50,483.40 310.25,483.94 311.00,484.49 311.75,485.06 312.50,485.63 313.25,486.21 314.00,486.79 314.75,487.37 315.50,487.96 316.25,488.54 317.00,489.11 317.75,489.68 318.50,490.25 319.25,490.81 320.00,491.37 320.75,491.92 321.50,492.48 322.25,493.03 323.00,493.57 323.75,494.11 324.50,494.64 325.25,495.17 326.00,495.70 326.75,496.23 327.50,496.75 328.25,497.27 329.00,497.78 329.75,498.28 330.50,498.76 331.25,499.23 332.00,499.69 332.75,500.13 333.50,500.55 334.25,500.97 335.00,501.37 335.75,501.76 336.50,502.15 337.25,502.51 338.00,502.87 338.75,503.20 339.50,503.52 340.25,503.82 341.00,504.11 341.75,504.37 342.50,504.63 343.25,504.87 344.00,505.11 344.75,505.35 345.50,505.58 346.25,505.83 347.00,506.08 347.75,506.35 348.50,506.61 349.25,506.89 350.00,507.17 350.75,507.46 351.50,507.76 352.25,508.08 353.00,508.42 353.75,508.80 354.50,509.22 355.25,509.67 356.00,510.16 356.75,510.68 357.50,511.21 358.25,511.75 359.00,512.29 359.75,512.82 360.50,513.34 361.25,513.86 362.00,514.37 362.75,514.87 363.50,515.35 364.25,515.80 365.00,516.21 365.75,516.60 366.50,516.97 367.25,517.31 368.00,517.64 368.75,517.94 369.50,518.21 370.25,518.45 371.00,518.66 371.75,518.84 372.50,519.00 373.25,519.15 374.00,519.27 374.75,519.36 375.50,519.43 376.25,519.47 377.00,519.49 377.75,519.50 378.50,519.50 379.25,519.51 380.00,519.54 380.75,519.59 381.50,519.67 382.25,519.80 383.00,519.96 383.75,520.16 384.50,520.40 385.25,520.68 386.00,521.03 386.75,521.45 387.50,521.93 388.25,522.46 389.00,523.01 389.75,523.57 390.50,524.13 391.25,524.71 392.00,525.29 392.75,525.86 393.50,526.42 394.25,526.96 395.00,527.45 395.75,527.92 396.50,528.35 397.25,528.75 398.00,529.13 398.75,529.47 399.50,529.77 400.25,530.04 401.00,530.27 401.75,530.47 402.50,530.66 403.25,530.84 404.00,531.02 404.75,531.22 405.50,531.43 406.25,531.67 407.00,531.92 407.75,532.18 408.50,532.42 409.25,532.63 410.00,532.79 410.75,532.89 411.50,532.93 412.25,532.91 413.00,532.86 413.75,532.76 414.50,532.64 415.25,532.50 416.00,532.34 416.75,532.16 417.50,531.95 418.25,531.71 419.00,531.42 419.75,531.08 420.50,530.70 421.25,530.28 422.00,529.84 422.75,529.37 423.50,528.87 424.25,528.35 425.00,527.78 425.75,527.17 426.50,526.54 427.25,525.89 428.00,525.27 428.75,524.68 429.50,524.13 430.25,523.63 431.00,523.17 431.75,522.77 432.50,522.45 433.25,522.25 434.00,522.18 434.75,522.23 435.50,522.40 436.25,522.64 437.00,522.94 437.75,523.29 438.50,523.68 439.25,524.12 440.00,524.61 440.75,525.18 441.50,525.79 442.25,526.44 443.00,527.09 443.75,527.73 444.50,528.34 445.25,528.93 446.00,529.51 446.75,530.08 447.50,530.64 448.25,531.17 449.00,531.62 449.75,531.99 450.50,532.23 451.25,532.35 452.00,532.36 452.75,532.28 453.50,532.14 454.25,531.93 455.00,531.67 455.75,531.33 456.50,530.87 457.25,530.28 458.00,529.56 458.75,528.81 459.50,528.09 460.25,527.46 461.00,526.94 461.75,526.51 462.50,526.19 463.25,525.97 464.00,525.88 464.75,525.89 465.50,526.00 466.25,526.24 467.00,526.69 467.75,527.44 468.50,528.50 469.25,529.82 470.00,531.32 470.75,532.91 471.50,534.61 472.25,536.39 473.00,538.21 473.75,540.06 474.50,541.88 475.25,543.69 476.00,545.48 476.75,547.14 477.50,548.78 478.25,550.43 479.00,551.85 479.75,553.39 480.50,554.92 481.25,556.17 482.00,557.35 482.75,558.28 483.50,559.30 484.25,560.46 485.00,561.47 485.75,562.25 486.50,562.77 487.25,563.42 488.00,564.09 488.75,564.38 489.50,564.37 490.25,564.84 491.00,565.34 491.75,565.22 492.50,565.41 493.25,565.61 494.00,565.76 494.75,565.57 495.50,565.35 496.25,565.06 497.00,565.52 497.75,565.74 498.50,565.33 499.25,565.48 500.00,565.20 500.75,564.62 501.50,564.25 502.25,564.87 503.00,564.80 503.75,564.49 504.50,564.34 505.25,564.74 506.00,565.44 506.75,565.47 507.50,565.66 508.25,565.66 509.00,565.64 509.75,565.64 510.50,566.41 511.25,567.32 512.00,566.96 512.75,566.45 513.50,566.41 514.25,567.16 515.00,567.20 515.75,566.07 516.50,566.60 517.25,568.42 518.00,568.71 518.75,568.81 519.50,569.66 520.25,570.58 521.00,570.94 521.75,571.49 522.50,572.69 523.25,572.57 524.00,572.34 524.75,573.09 525.50,574.01 526.25,574.66 527.00,575.44 527.75,575.46 528.50,574.63 529.25,576.20 530.00,578.36 530.75,578.80 531.50,578.49 532.25,579.21 533.00,580.51 533.75,580.58 534.50,581.24 535.25,582.68 536.00,582.82 536.75,583.34 537.50,583.88 538.25,584.17 539.00,584.31 539.75,585.47 540.50,587.01 541.25,587.14 542.00,587.72 542.75,588.13 543.50,589.16 544.25,589.85 545.00,590.37 545.75,592.27 546.50,593.42 547.25,594.18 548.00,594.42 548.75,596.31 549.50,598.56 549.50,626.75 548.75,625.61 548.00,625.09 547.25,624.66 546.50,625.50 545.75,625.50 545.00,623.43 544.25,621.97 543.50,622.22 542.75,621.84 542.00,620.14 541.25,618.75 540.50,619.82 539.75,619.65 539.00,617.90 538.25,617.13 537.50,617.46 536.75,617.52 536.00,615.51 535.25,614.68 534.50,614.86 533.75,613.51 533.00,612.73 532.25,612.36 531.50,611.05 530.75,610.17 530.00,609.11 529.25,608.29 528.50,608.41 527.75,608.61 527.00,608.35 526.25,607.98 525.50,606.62 524.75,605.82 524.00,605.61 523.25,605.10 522.50,604.38 521.75,603.58 521.00,602.31 520.25,601.24 519.50,600.58 518.75,599.70 518.00,598.67 517.25,598.22 516.50,598.01 515.75,597.51 515.00,597.11 514.25,596.31 513.50,595.81 512.75,596.56 512.00,597.07 511.25,597.01 510.50,596.51 509.75,596.34 509.00,596.13 508.25,595.73 507.50,595.66 506.75,596.08 506.00,595.95 505.25,595.61 504.50,596.03 503.75,596.37 503.00,596.75 502.25,596.92 501.50,597.02 500.75,596.93 500.00,596.23 499.25,596.60 498.50,597.47 497.75,597.31 497.00,597.03 496.25,597.07 495.50,596.89 494.75,596.70 494.00,596.76 493.25,596.81 492.50,596.31 491.75,596.20 491.00,596.11 490.25,595.66 489.50,595.30 488.75,594.96 488.00,594.19 487.25,593.40 486.50,592.83 485.75,592.33 485.00,591.71 484.25,591.07 483.50,590.04 482.75,588.81 482.00,587.71 481.25,586.74 480.50,585.83 479.75,584.58 479.00,583.23 478.25,581.71 477.50,579.89 476.75,577.89 476.00,575.99 475.25,574.41 474.50,572.82 473.75,570.97 473.00,569.14 472.25,567.34 471.50,565.53 470.75,563.68 470.00,561.89 469.25,560.20 468.50,558.72 467.75,557.51 467.00,556.57 466.25,555.89 465.50,555.46 464.75,555.27 464.00,555.29 463.25,555.45 462.50,555.74 461.75,556.12 461.00,556.62 460.25,557.24 459.50,557.96 458.75,558.71 458.00,559.42 457.25,560.04 456.50,560.57 455.75,560.99 455.00,561.31 454.25,561.51 453.50,561.58 452.75,561.52 452.00,561.35 451.25,561.11 450.50,560.80 449.75,560.46 449.00,560.08 448.25,559.65 447.50,559.17 446.75,558.64 446.00,558.06 445.25,557.46 444.50,556.85 443.75,556.24 443.00,555.62 442.25,555.00 441.50,554.39 440.75,553.81 440.00,553.29 439.25,552.84 438.50,552.48 437.75,552.17 437.00,551.91 436.25,551.69 435.50,551.53 434.75,551.43 434.00,551.44 433.25,551.60 432.50,551.92 431.75,552.38 431.00,552.94 430.25,553.53 429.50,554.15 428.75,554.77 428.00,555.41 427.25,556.06 426.50,556.69 425.75,557.30 425.00,557.86 424.25,558.37 423.50,558.82 422.75,559.21 422.00,559.56 421.25,559.89 420.50,560.19 419.75,560.47 419.00,560.74 418.25,561.00 417.50,561.26 416.75,561.52 416.00,561.79 415.25,562.06 414.50,562.31 413.75,562.53 413.00,562.71 412.25,562.84 411.50,562.92 410.75,562.93 410.00,562.90 409.25,562.82 408.50,562.72 407.75,562.59 407.00,562.44 406.25,562.28 405.50,562.10 404.75,561.89 404.00,561.66 403.25,561.40 402.50,561.10 401.75,560.78 401.00,560.45 400.25,560.11 399.50,559.76 398.75,559.41 398.00,559.05 397.25,558.67 396.50,558.29 395.75,557.89 395.00,557.48 394.25,557.06 393.50,556.63 392.75,556.19 392.00,555.73 391.25,555.27 390.50,554.79 389.75,554.30 389.00,553.79 388.25,553.27 387.50,552.75 386.75,552.26 386.00,551.81 385.25,551.43 384.50,551.11 383.75,550.83 383.00,550.59 382.25,550.39 381.50,550.23 380.75,550.11 380.00,550.05 379.25,550.01 378.50,549.99 377.75,549.96 377.00,549.90 376.25,549.78 375.50,549.61 374.75,549.39 374.00,549.12 373.25,548.83 372.50,548.52 371.75,548.21 371.00,547.90 370.25,547.59 369.50,547.27 368.75,546.93 368.00,546.58 367.25,546.21 366.50,545.81 365.75,545.40 365.00,544.95 364.25,544.47 363.50,543.95 362.75,543.40 362.00,542.83 361.25,542.24 360.50,541.64 359.75,541.04 359.00,540.43 358.25,539.80 357.50,539.18 356.75,538.55 356.00,537.94 355.25,537.36 354.50,536.81 353.75,536.30 353.00,535.82 352.25,535.38 351.50,534.95 350.75,534.55 350.00,534.17 349.25,533.81 348.50,533.46 347.75,533.13 347.00,532.81 346.25,532.51 345.50,532.23 344.75,531.95 344.00,531.69 343.25,531.43 342.50,531.17 341.75,530.92 341.00,530.67 340.25,530.43 339.50,530.19 338.75,529.96 338.00,529.72 337.25,529.49 336.50,529.25 335.75,529.00 335.00,528.74 334.25,528.47 333.50,528.20 332.75,527.92 332.00,527.63 331.25,527.33 330.50,527.02 329.75,526.69 329.00,526.34 328.25,525.97 327.50,525.58 326.75,525.17 326.00,524.74 325.25,524.28 324.50,523.81 323.75,523.32 323.00,522.82 322.25,522.30 321.50,521.76 320.75,521.19 320.00,520.60 319.25,520.00 318.50,519.38 317.75,518.76 317.00,518.13 316.25,517.49 315.50,516.85 314.75,516.19 314.00,515.53 313.25,514.86 312.50,514.19 311.75,513.53 311.00,512.87 310.25,512.22 309.50,511.58 308.75,510.94 308.00,510.30 307.25,509.67 306.50,509.06 305.75,508.46 305.00,507.90 304.25,507.38 303.50,506.88 302.75,506.42 302.00,505.99 301.25,505.58 300.50,505.19 299.75,504.81 299.00,504.45 298.25,504.10 297.50,503.75 296.75,503.41 296.00,503.08 295.25,502.76 294.50,502.45 293.75,502.18 293.00,501.93 292.25,501.71 291.50,501.52 290.75,501.34 290.00,501.17 289.25,501.02 288.50,500.88 287.75,500.76 287.00,500.66 286.25,500.59 285.50,500.54" fill="#c3cd3c" fill-opacity="0.26"/>
<polygon points="285.50,464.79 286.25,464.58 287.00,464.30 287.75,464.00 288.50,463.70 289.25,463.42 290.00,463.17 290.75,462.94 291.50,462.75 292.25,462.58 293.00,462.42 293.75,462.29 294.50,462.17 295.25,462.06 296.00,461.96 296.75,461.88 297.50,461.82 298.25,461.79 299.00,461.79 299.75,461.82 300.50,461.88 301.25,461.96 302.00,462.07 302.75,462.21 303.50,462.36 304.25,462.52 305.00,462.70 305.75,462.90 306.50,463.12 307.25,463.37 308.00,463.67 308.75,464.02 309.50,464.40 310.25,464.83 311.00,465.29 311.75,465.77 312.50,466.27 313.25,466.78 314.00,467.31 314.75,467.84 315.50,468.39 316.25,468.97 317.00,469.58 317.75,470.21 318.50,470.87 319.25,471.54 320.00,472.22 320.75,472.91 321.50,473.59 322.25,474.27 323.00,474.95 323.75,475.63 324.50,476.32 325.25,477.00 326.00,477.69 326.75,478.38 327.50,479.06 328.25,479.73 329.00,480.38 329.75,481.03 330.50,481.67 331.25,482.31 332.00,482.94 332.75,483.57 333.50,484.19 334.25,484.78 335.00,485.35 335.75,485.88 336.50,486.37 337.25,486.83 338.00,487.25 338.75,487.65 339.50,488.03 340.25,488.35 341.00,488.62 341.75,488.81 342.50,488.92 343.25,488.97 344.00,488.99 344.75,489.00 345.50,489.00 346.25,488.99 347.00,488.96 347.75,488.90 348.50,488.77 349.25,488.56 350.00,488.27 350.75,487.92 351.50,487.53 352.25,487.11 353.00,486.67 353.75,486.23 354.50,485.77 355.25,485.28 356.00,484.77 356.75,484.24 357.50,483.70 358.25,483.17 359.00,482.66 359.75,482.17 360.50,481.70 361.25,481.25 362.00,480.81 362.75,480.41 363.50,480.06 364.25,479.79 365.00,479.59 365.75,479.45 366.50,479.37 367.25,479.35 368.00,479.41 368.75,479.58 369.50,479.88 370.25,480.30 371.00,480.83 371.75,481.41 372.50,482.03 373.25,482.68 374.00,483.38 374.75,484.15 375.50,484.99 376.25,485.93 377.00,487.01 377.75,488.25 378.50,489.58 379.25,490.90 380.00,492.05 380.75,492.96 381.50,493.66 382.25,494.20 383.00,494.64 383.75,495.00 384.50,495.29 385.25,495.52 386.00,495.70 386.75,495.86 387.50,495.99 388.25,496.09 389.00,496.12 389.75,496.07 390.50,495.88 391.25,495.54 392.00,495.07 392.75,494.53 393.50,494.00 394.25,493.49 395.00,493.05 395.75,492.67 396.50,492.40 397.25,492.30 398.00,492.41 398.75,492.75 399.50,493.29 400.25,494.02 401.00,494.92 401.75,496.00 402.50,497.25 403.25,498.63 404.00,500.03 404.75,501.34 405.50,502.53 406.25,503.57 407.00,504.51 407.75,505.40 408.50,506.27 409.25,507.16 410.00,508.09 410.75,509.08 411.50,510.10 412.25,511.14 413.00,512.14 413.75,513.07 414.50,513.89 415.25,514.59 416.00,515.17 416.75,515.60 417.50,515.84 418.25,515.83 419.00,515.57 419.75,515.08 420.50,514.41 421.25,513.61 422.00,512.70 422.75,511.71 423.50,510.70 424.25,509.77 425.00,508.95 425.75,508.28 426.50,507.78 427.25,507.47 428.00,507.41 428.75,507.63 429.50,508.14 430.25,508.94 431.00,510.02 431.75,511.41 432.50,513.12 433.25,515.06 434.00,517.10 434.75,519.08 435.50,520.92 436.25,522.60 437.00,524.17 437.75,525.66 438.50,527.12 439.25,528.56 440.00,530.00 440.75,531.42 441.50,532.84 442.25,534.26 443.00,535.67 443.75,537.10 444.50,538.56 445.25,540.03 446.00,541.54 446.75,543.11 447.50,544.68 448.25,546.31 449.00,547.90 449.75,549.39 450.50,551.07 451.25,552.87 452.00,554.28 452.75,555.65 453.50,557.20 454.25,558.79 455.00,560.66 455.75,562.41 456.50,564.12 457.25,565.75 458.00,567.32 458.75,568.92 459.50,570.25 460.25,571.39 461.00,572.67 461.75,573.89 462.50,575.21 463.25,577.05 464.00,578.03 464.75,579.15 465.50,580.13 466.25,581.23 467.00,582.98 467.75,584.42 468.50,585.72 469.25,586.95 470.00,587.86 470.75,589.10 471.50,590.17 472.25,590.79 473.00,591.68 473.75,592.72 474.50,593.37 475.25,593.41 476.00,593.22 476.75,594.27 477.50,595.15 478.25,595.43 479.00,596.28 479.75,597.28 480.50,597.47 481.25,597.80 482.00,598.03 482.75,598.74 483.50,599.80 484.25,600.81 485.00,601.95 485.75,602.75 486.50,603.49 487.25,603.72 488.00,604.33 488.75,605.55 489.50,606.49 490.25,607.47 491.00,608.52 491.75,609.93 492.50,611.84 493.25,613.13 494.00,613.36 494.75,613.83 495.50,614.69 496.25,613.83 497.00,614.02 497.75,616.09 498.50,617.28 499.25,617.92 500.00,618.27 500.75,618.09 501.50,619.49 502.25,622.17 503.00,623.10 503.75,623.46 504.50,624.79 505.25,624.39 506.00,624.90 506.75,626.06 507.50,626.22 508.25,627.15 509.00,628.33 509.75,629.45 510.50,631.05 511.25,631.42 512.00,630.81 512.75,631.60 513.50,633.13 514.25,633.72 515.00,634.20 515.75,635.88 516.50,636.89 517.25,637.06 518.00,637.61 518.75,636.77 519.50,637.42 520.25,639.57 521.00,639.85 521.75,640.16 522.50,641.28 523.25,642.21 524.00,642.86 524.75,642.58 525.50,644.89 526.25,648.05 527.00,646.27 527.75,644.61 528.50,646.76 529.25,648.69 530.00,649.54 530.75,648.88 531.50,649.00 532.25,651.05 533.00,650.75 533.75,649.60 534.50,651.34 535.25,652.71 536.00,653.66 536.75,653.84 537.50,654.72 538.25,655.35 539.00,655.75 539.75,655.59 540.50,655.58 541.25,656.66 542.00,657.88 542.75,658.94 543.50,660.06 544.25,659.83 545.00,660.64 545.75,661.85 546.50,660.87 547.25,660.23 548.00,659.82 548.75,661.12 549.50,663.58 549.50,681.22 548.75,680.59 548.00,679.33 547.25,679.63 546.50,678.55 545.75,676.27 545.00,677.23 544.25,677.79 543.50,679.88 542.75,680.85 542.00,678.33 541.25,675.30 540.50,675.57 539.75,675.80 539.00,675.93 538.25,675.23 537.50,673.75 536.75,672.09 536.00,673.43 535.25,675.41 534.50,673.36 533.75,671.19 533.00,672.15 532.25,672.02 531.50,670.83 530.75,670.04 530.00,667.56 529.25,664.79 528.50,665.21 527.75,667.18 527.00,667.25 526.25,666.84 525.50,666.24 524.75,663.64 524.00,662.33 523.25,661.56 522.50,661.26 521.75,660.03 521.00,660.48 520.25,660.52 519.50,659.71 518.75,659.79 518.00,659.84 517.25,659.24 516.50,657.20 515.75,656.12 515.00,654.64 514.25,652.57 513.50,652.55 512.75,653.13 512.00,651.32 511.25,649.52 510.50,649.33 509.75,650.37 509.00,649.86 508.25,647.73 507.50,646.62 506.75,645.02 506.00,644.06 505.25,643.67 504.50,643.06 503.75,642.95 503.00,644.01 502.25,643.30 501.50,641.35 500.75,639.82 500.00,639.40 499.25,640.00 498.50,638.64 497.75,636.10 497.00,635.15 496.25,634.25 495.50,633.08 494.75,631.88 494.00,630.70 493.25,629.62 492.50,629.88 491.75,629.56 491.00,628.99 490.25,628.67 489.50,628.01 488.75,626.70 488.00,626.08 487.25,625.04 486.50,624.83 485.75,624.40 485.00,623.44 484.25,623.61 483.50,623.01 482.75,621.98 482.00,621.08 481.25,620.57 480.50,619.67 479.75,619.53 479.00,619.40 478.25,617.70 477.50,616.62 476.75,616.18 476.00,615.60 475.25,615.21 474.50,614.07 473.75,613.19 473.00,613.53 472.25,612.91 471.50,612.22 470.75,611.45 470.00,610.07 469.25,608.89 468.50,607.37 467.75,605.78 467.00,604.71 466.25,603.56 465.50,601.51 464.75,599.86 464.00,598.98 463.25,597.98 462.50,596.98 461.75,596.16 461.00,595.28 460.25,593.49 459.50,591.73 458.75,590.43 458.00,588.94 457.25,587.18 456.50,585.59 455.75,583.69 455.00,581.85 454.25,580.60 453.50,579.01 452.75,577.30 452.00,575.44 451.25,573.74 450.50,572.17 449.75,570.67 449.00,569.22 448.25,567.75 447.50,566.29 446.75,564.76 446.00,563.26 445.25,561.76 444.50,560.25 443.75,558.75 443.00,557.25 442.25,555.75 441.50,554.26 440.75,552.78 440.00,551.31 439.25,549.84 438.50,548.36 437.75,546.84 437.00,545.24 436.25,543.54 435.50,541.73 434.75,539.85 434.00,538.00 433.25,536.30 432.50,534.81 431.75,533.56 431.00,532.52 430.25,531.71 429.50,531.16 428.75,530.89 428.00,530.90 427.25,531.13 426.50,531.52 425.75,532.02 425.00,532.59 424.25,533.24 423.50,533.95 422.75,534.71 422.00,535.47 421.25,536.23 420.50,536.94 419.75,537.57 419.00,538.04 418.25,538.26 417.50,538.18 416.75,537.81 416.00,537.22 415.25,536.50 414.50,535.73 413.75,534.92 413.00,534.09 412.25,533.22 411.50,532.33 410.75,531.41 410.00,530.48 409.25,529.52 408.50,528.55 407.75,527.55 407.00,526.53 406.25,525.49 405.50,524.42 404.75,523.31 404.00,522.17 403.25,520.99 402.50,519.82 401.75,518.68 401.00,517.62 400.25,516.65 399.50,515.79 398.75,515.06 398.00,514.53 397.25,514.28 396.50,514.34 395.75,514.68 395.00,515.19 394.25,515.74 393.50,516.24 392.75,516.64 392.00,516.96 391.25,517.18 390.50,517.30 389.75,517.30 389.00,517.16 388.25,516.90 387.50,516.54 386.75,516.11 386.00,515.65 385.25,515.17 384.50,514.69 383.75,514.21 383.00,513.70 382.25,513.15 381.50,512.54 380.75,511.83 380.00,511.01 379.25,510.06 378.50,509.03 377.75,508.01 377.00,507.05 376.25,506.19 375.50,505.41 374.75,504.71 374.00,504.09 373.25,503.54 372.50,503.07 371.75,502.66 371.00,502.29 370.25,501.98 369.50,501.71 368.75,501.51 368.00,501.39 367.25,501.36 366.50,501.41 365.75,501.53 365.00,501.70 364.25,501.92 363.50,502.17 362.75,502.46 362.00,502.78 361.25,503.16 360.50,503.59 359.75,504.06 359.00,504.54 358.25,505.02 357.50,505.48 356.75,505.94 356.00,506.40 355.25,506.84 354.50,507.28 353.75,507.68 353.00,508.05 352.25,508.36 351.50,508.62 350.75,508.83 350.00,509.00 349.25,509.15 348.50,509.27 347.75,509.36 347.00,509.42 346.25,509.42 345.50,509.36 344.75,509.24 344.00,509.06 343.25,508.83 342.50,508.55 341.75,508.25 341.00,507.93 340.25,507.59 339.50,507.23 338.75,506.84 338.00,506.42 337.25,505.97 336.50,505.49 335.75,504.99 335.00,504.49 334.25,503.97 333.50,503.43 332.75,502.88 332.00,502.31 331.25,501.74 330.50,501.15 329.75,500.55 329.00,499.95 328.25,499.35 327.50,498.74 326.75,498.13 326.00,497.50 325.25,496.87 324.50,496.24 323.75,495.60 323.00,494.96 322.25,494.33 321.50,493.71 320.75,493.10 320.00,492.50 319.25,491.90 318.50,491.30 317.75,490.69 317.00,490.08 316.25,489.48 315.50,488.89 314.75,488.31 314.00,487.76 313.25,487.25 312.50,486.77 311.75,486.35 311.00,485.97 310.25,485.64 309.50,485.35 308.75,485.09 308.00,484.84 307.25,484.60 306.50,484.37 305.75,484.15 305.00,483.95 304.25,483.76 303.50,483.59 302.75,483.44 302.00,483.31 301.25,483.20 300.50,483.12 299.75,483.06 299.00,483.03 298.25,483.01 297.50,483.00 296.75,483.01 296.00,483.01 295.25,483.02 294.50,483.03 293.75,483.05 293.00,483.07 292.25,483.10 291.50,483.13 290.75,483.18 290.00,483.23 289.25,483.29 288.50,483.36 287.75,483.44 287.00,483.53 286.25,483.61 285.50,483.68" fill="#4f8070" fill-opacity="0.20"/>
<polyline points="285.50,486.35 286.25,486.46 287.00,486.61 287.75,486.78 288.50,486.96 289.25,487.15 290.00,487.34 290.75,487.53 291.50,487.73 292.25,487.93 293.00,488.14 293.75,488.35 294.50,488.56 295.25,488.78 296.00,489.01 296.75,489.26 297.50,489.53 298.25,489.81 299.00,490.12 299.75,490.45 300.50,490.80 301.25,491.17 302.00,491.55 302.75,491.96 303.50,492.38 304.25,492.83 305.00,493.31 305.75,493.81 306.50,494.33 307.25,494.88 308.00,495.45 308.75,496.03 309.50,496.62 310.25,497.23 311.00,497.85 311.75,498.50 312.50,499.16 313.25,499.83 314.00,500.51 314.75,501.18 315.50,501.84 316.25,502.48 317.00,503.12 317.75,503.74 318.50,504.36 319.25,504.97 320.00,505.57 320.75,506.16 321.50,506.74 322.25,507.30 323.00,507.86 323.75,508.40 324.50,508.94 325.25,509.46 326.00,509.98 326.75,510.48 327.50,510.96 328.25,511.43 329.00,511.88 329.75,512.32 330.50,512.75 331.25,513.17 332.00,513.57 332.75,513.95 333.50,514.32 334.25,514.66 335.00,514.97 335.75,515.27 336.50,515.55 337.25,515.81 338.00,516.06 338.75,516.30 339.50,516.52 340.25,516.73 341.00,516.92 341.75,517.09 342.50,517.25 343.25,517.39 344.00,517.54 344.75,517.69 345.50,517.85 346.25,518.04 347.00,518.26 347.75,518.51 348.50,518.78 349.25,519.09 350.00,519.42 350.75,519.79 351.50,520.18 352.25,520.62 353.00,521.10 353.75,521.61 354.50,522.16 355.25,522.73 356.00,523.32 356.75,523.91 357.50,524.52 358.25,525.14 359.00,525.78 359.75,526.43 360.50,527.08 361.25,527.71 362.00,528.32 362.75,528.91 363.50,529.47 364.25,530.00 365.00,530.51 365.75,530.99 366.50,531.43 367.25,531.82 368.00,532.18 368.75,532.49 369.50,532.78 370.25,533.04 371.00,533.29 371.75,533.52 372.50,533.76 373.25,533.99 374.00,534.23 374.75,534.45 375.50,534.64 376.25,534.78 377.00,534.86 377.75,534.85 378.50,534.78 379.25,534.69 380.00,534.62 380.75,534.62 381.50,534.68 382.25,534.80 383.00,534.96 383.75,535.16 384.50,535.40 385.25,535.68 386.00,536.03 386.75,536.45 387.50,536.93 388.25,537.46 389.00,538.01 389.75,538.57 390.50,539.14 391.25,539.73 392.00,540.32 392.75,540.90 393.50,541.46 394.25,541.97 395.00,542.42 395.75,542.81 396.50,543.16 397.25,543.47 398.00,543.76 398.75,544.04 399.50,544.32 400.25,544.59 401.00,544.86 401.75,545.12 402.50,545.38 403.25,545.64 404.00,545.91 404.75,546.19 405.50,546.49 406.25,546.80 407.00,547.13 407.75,547.45 408.50,547.73 409.25,547.95 410.00,548.08 410.75,548.11 411.50,548.04 412.25,547.89 413.00,547.68 413.75,547.44 414.50,547.18 415.25,546.91 416.00,546.63 416.75,546.34 417.50,546.04 418.25,545.73 419.00,545.42 419.75,545.12 420.50,544.83 421.25,544.54 422.00,544.26 422.75,543.97 423.50,543.66 424.25,543.30 425.00,542.89 425.75,542.40 426.50,541.83 427.25,541.19 428.00,540.52 428.75,539.85 429.50,539.19 430.25,538.55 431.00,537.93 431.75,537.37 432.50,536.92 433.25,536.62 434.00,536.50 434.75,536.55 435.50,536.73 436.25,536.99 437.00,537.29 437.75,537.60 438.50,537.93 439.25,538.27 440.00,538.63 440.75,539.02 441.50,539.45 442.25,539.93 443.00,540.48 443.75,541.10 444.50,541.78 445.25,542.49 446.00,543.18 446.75,543.84 447.50,544.43 448.25,544.97 449.00,545.47 449.75,545.93 450.50,546.31 451.25,546.61 452.00,546.79 452.75,546.87 453.50,546.84 454.25,546.74 455.00,546.55 455.75,546.27 456.50,545.86 457.25,545.30 458.00,544.60 458.75,543.84 459.50,543.10 460.25,542.43 461.00,541.85 461.75,541.37 462.50,541.00 463.25,540.74 464.00,540.60 464.75,540.56 465.50,540.65 466.25,540.93 467.00,541.49 467.75,542.36 468.50,543.52 469.25,544.92 470.00,546.50 470.75,548.21 471.50,549.99 472.25,551.82 473.00,553.70 473.75,555.57 474.50,557.26 475.25,558.87 476.00,560.53 476.75,562.25 477.50,563.78 478.25,565.33 479.00,566.90 479.75,568.27 480.50,569.57 481.25,570.98 482.00,572.37 482.75,573.51 483.50,574.59 484.25,575.57 485.00,576.37 485.75,577.18 486.50,577.93 487.25,578.75 488.00,579.11 488.75,579.23 489.50,579.94 490.25,580.67 491.00,580.80 491.75,580.99 492.50,581.24 493.25,581.05 494.00,581.20 494.75,581.52 495.50,581.43 496.25,580.90 497.00,580.92 497.75,581.37 498.50,581.06 499.25,581.20 500.00,581.58 500.75,580.63 501.50,580.24 502.25,581.35 503.00,581.37 503.75,581.26 504.50,581.63 505.25,581.27 506.00,581.20 506.75,580.90 507.50,580.72 508.25,581.05 509.00,581.35 509.75,581.51 510.50,581.22 511.25,580.55 512.00,580.77 512.75,581.49 513.50,581.27 514.25,581.17 515.00,581.82 515.75,582.34 516.50,582.35 517.25,582.06 518.00,582.67 518.75,584.10 519.50,584.88 520.25,584.80 521.00,585.50 521.75,586.80 522.50,587.79 523.25,588.58 524.00,590.20 524.75,590.50 525.50,591.20 526.25,592.42 527.00,592.55 527.75,592.60 528.50,592.83 529.25,593.17 530.00,593.29 530.75,594.10 531.50,594.76 532.25,595.32 533.00,596.72 533.75,596.97 534.50,596.79 535.25,597.99 536.00,598.69 536.75,599.46 537.50,599.79 538.25,600.58 539.00,602.27 539.75,603.22 540.50,602.49 541.25,603.01 542.00,604.47 542.75,605.78 543.50,606.26 544.25,607.33 545.00,608.73 545.75,609.04 546.50,608.83 547.25,609.26 548.00,610.20 548.75,610.86 549.50,610.75" fill="none" stroke="#9ea216" stroke-width="1" stroke-linejoin="round"/>
<polyline points="285.50,475.54 286.25,475.33 287.00,475.05 287.75,474.75 288.50,474.45 289.25,474.17 290.00,473.92 290.75,473.69 291.50,473.50 292.25,473.33 293.00,473.17 293.75,473.04 294.50,472.92 295.25,472.81 296.00,472.71 296.75,472.63 297.50,472.57 298.25,472.54 299.00,472.54 299.75,472.56 300.50,472.61 301.25,472.68 302.00,472.77 302.75,472.87 303.50,472.99 304.25,473.13 305.00,473.29 305.75,473.47 306.50,473.69 307.25,473.95 308.00,474.24 308.75,474.57 309.50,474.93 310.25,475.30 311.00,475.70 311.75,476.10 312.50,476.53 313.25,476.98 314.00,477.45 314.75,477.96 315.50,478.49 316.25,479.05 317.00,479.63 317.75,480.22 318.50,480.81 319.25,481.41 320.00,482.00 320.75,482.60 321.50,483.21 322.25,483.83 323.00,484.45 323.75,485.08 324.50,485.71 325.25,486.35 326.00,486.98 326.75,487.62 327.50,488.25 328.25,488.89 329.00,489.52 329.75,490.16 330.50,490.80 331.25,491.44 332.00,492.07 332.75,492.69 333.50,493.31 334.25,493.91 335.00,494.50 335.75,495.09 336.50,495.67 337.25,496.23 338.00,496.77 338.75,497.25 339.50,497.68 340.25,498.06 341.00,498.40 341.75,498.69 342.50,498.95 343.25,499.17 344.00,499.32 344.75,499.41 345.50,499.44 346.25,499.43 347.00,499.38 347.75,499.30 348.50,499.21 349.25,499.09 350.00,498.93 350.75,498.71 351.50,498.43 352.25,498.08 353.00,497.68 353.75,497.25 354.50,496.79 355.25,496.31 356.00,495.80 356.75,495.28 357.50,494.73 358.25,494.19 359.00,493.68 359.75,493.19 360.50,492.74 361.25,492.32 362.00,491.93 362.75,491.57 363.50,491.26 364.25,491.01 365.00,490.82 365.75,490.69 366.50,490.61 367.25,490.60 368.00,490.66 368.75,490.80 369.50,491.03 370.25,491.34 371.00,491.74 371.75,492.24 372.50,492.86 373.25,493.58 374.00,494.38 374.75,495.23 375.50,496.11 376.25,497.00 377.00,497.90 377.75,498.79 378.50,499.64 379.25,500.44 380.00,501.17 380.75,501.85 381.50,502.47 382.25,503.06 383.00,503.62 383.75,504.16 384.50,504.67 385.25,505.17 386.00,505.66 386.75,506.11 387.50,506.47 388.25,506.69 389.00,506.76 389.75,506.66 390.50,506.43 391.25,506.10 392.00,505.72 392.75,505.30 393.50,504.84 394.25,504.37 395.00,503.92 395.75,503.57 396.50,503.39 397.25,503.44 398.00,503.76 398.75,504.31 399.50,505.03 400.25,505.87 401.00,506.79 401.75,507.79 402.50,508.85 403.25,509.95 404.00,511.03 404.75,512.09 405.50,513.10 406.25,514.07 407.00,515.01 407.75,515.95 408.50,516.88 409.25,517.83 410.00,518.80 410.75,519.80 411.50,520.83 412.25,521.86 413.00,522.89 413.75,523.90 414.50,524.86 415.25,525.77 416.00,526.57 416.75,527.16 417.50,527.45 418.25,527.39 419.00,527.03 419.75,526.45 420.50,525.73 421.25,524.93 422.00,524.07 422.75,523.17 423.50,522.27 424.25,521.40 425.00,520.62 425.75,519.94 426.50,519.39 427.25,519.03 428.00,518.92 428.75,519.10 429.50,519.55 430.25,520.27 431.00,521.24 431.75,522.46 432.50,523.95 433.25,525.65 434.00,527.45 434.75,529.23 435.50,530.93 436.25,532.54 437.00,534.08 437.75,535.57 438.50,537.05 439.25,538.53 440.00,540.01 440.75,541.50 441.50,543.00 442.25,544.50 443.00,546.00 443.75,547.50 444.50,548.99 445.25,550.48 446.00,551.94 446.75,553.49 447.50,555.00 448.25,556.48 449.00,558.09 449.75,559.69 450.50,561.37 451.25,563.04 452.00,564.73 452.75,566.19 453.50,567.83 454.25,569.88 455.00,571.33 455.75,572.77 456.50,574.40 457.25,576.16 458.00,577.94 458.75,579.60 459.50,581.34 460.25,582.91 461.00,583.68 461.75,584.34 462.50,585.45 463.25,586.64 464.00,587.90 464.75,589.64 465.50,590.86 466.25,592.11 467.00,593.39 467.75,594.33 468.50,595.85 469.25,597.74 470.00,598.87 470.75,599.77 471.50,600.81 472.25,600.79 473.00,601.34 473.75,601.74 474.50,602.14 475.25,604.20 476.00,604.73 476.75,604.91 477.50,606.40 478.25,606.80 479.00,606.64 479.75,606.74 480.50,607.10 481.25,607.60 482.00,609.01 482.75,609.88 483.50,611.03 484.25,612.45 485.00,613.03 485.75,613.63 486.50,614.20 487.25,614.82 488.00,616.58 488.75,618.10 489.50,618.66 490.25,618.83 491.00,618.46 491.75,618.56 492.50,619.74 493.25,621.80 494.00,622.85 494.75,623.70 495.50,623.51 496.25,624.02 497.00,625.56 497.75,626.79 498.50,627.09 499.25,627.42 500.00,627.90 500.75,628.08 501.50,628.17 502.25,629.41 503.00,630.59 503.75,631.80 504.50,632.87 505.25,633.21 506.00,634.04 506.75,635.11 507.50,636.56 508.25,637.29 509.00,637.32 509.75,639.52 510.50,641.07 511.25,639.68 512.00,639.87 512.75,641.35 513.50,643.71 514.25,646.15 515.00,646.07 515.75,646.14 516.50,647.35 517.25,648.05 518.00,649.43 518.75,650.34 519.50,650.74 520.25,651.35 521.00,653.96 521.75,653.99 522.50,653.27 523.25,652.86 524.00,652.39 524.75,652.82 525.50,653.75 526.25,654.38 527.00,655.26 527.75,655.83 528.50,657.72 529.25,658.72 530.00,658.69 530.75,660.12 531.50,660.89 532.25,662.21 533.00,663.19 533.75,663.32 534.50,662.33 535.25,663.72 536.00,665.55 536.75,663.69 537.50,661.45 538.25,660.98 539.00,660.97 539.75,662.46 540.50,666.05 541.25,668.52 542.00,668.03 542.75,668.12 543.50,668.29 544.25,668.32 545.00,668.36 545.75,668.85 546.50,669.05 547.25,668.85 548.00,671.14 548.75,672.03 549.50,670.83" fill="none" stroke="#43736a" stroke-width="1" stroke-linejoin="round"/>
</g>
<path d="M285.50,455.40 H550.00 V712.00" fill="none" stroke="#808080" stroke-width="0.9"/>
<path d="M285.50,455.40 V712.00 H550.00" fill="none" stroke="#5e5e5e" stroke-width="0.9"/>
<line x1="285.50" y1="455.40" x2="288.10" y2="455.40" stroke="#6a6a6a" stroke-width="0.8"/>
<line x1="550.00" y1="455.40" x2="547.40" y2="455.40" stroke="#6a6a6a" stroke-width="0.8"/>
<line x1="285.50" y1="498.10" x2="288.10" y2="498.10" stroke="#6a6a6a" stroke-width="0.8"/>
<line x1="550.00" y1="498.10" x2="547.40" y2="498.10" stroke="#6a6a6a" stroke-width="0.8"/>
<line x1="285.50" y1="540.80" x2="288.10" y2="540.80" stroke="#6a6a6a" stroke-width="0.8"/>
<line x1="550.00" y1="540.80" x2="547.40" y2="540.80" stroke="#6a6a6a" stroke-width="0.8"/>
<line x1="285.50" y1="583.50" x2="288.10" y2="583.50" stroke="#6a6a6a" stroke-width="0.8"/>
<line x1="550.00" y1="583.50" x2="547.40" y2="583.50" stroke="#6a6a6a" stroke-width="0.8"/>
<line x1="285.50" y1="626.30" x2="288.10" y2="626.30" stroke="#6a6a6a" stroke-width="0.8"/>
<line x1="550.00" y1="626.30" x2="547.40" y2="626.30" stroke="#6a6a6a" stroke-width="0.8"/>
<line x1="285.50" y1="669.10" x2="288.10" y2="669.10" stroke="#6a6a6a" stroke-width="0.8"/>
<line x1="550.00" y1="669.10" x2="547.40" y2="669.10" stroke="#6a6a6a" stroke-width="0.8"/>
<line x1="285.50" y1="712.00" x2="288.10" y2="712.00" stroke="#6a6a6a" stroke-width="0.8"/>
<line x1="550.00" y1="712.00" x2="547.40" y2="712.00" stroke="#6a6a6a" stroke-width="0.8"/>
<line x1="463.25" y1="712.00" x2="463.25" y2="709.40" stroke="#6a6a6a" stroke-width="0.8"/>
<line x1="463.25" y1="455.40" x2="463.25" y2="458.00" stroke="#6a6a6a" stroke-width="0.8"/>
<line x1="518.25" y1="712.00" x2="518.25" y2="709.40" stroke="#6a6a6a" stroke-width="0.8"/>
<line x1="518.25" y1="455.40" x2="518.25" y2="458.00" stroke="#6a6a6a" stroke-width="0.8"/>
<text x="281.8" y="460.20" font-family="Liberation Sans, sans-serif" font-size="11.3" text-anchor="end" fill="#262626">-2.5</text>
<text x="281.8" y="502.90" font-family="Liberation Sans, sans-serif" font-size="11.3" text-anchor="end" fill="#262626">-3</text>
<text x="281.8" y="545.60" font-family="Liberation Sans, sans-serif" font-size="11.3" text-anchor="end" fill="#262626">-3.5</text>
<text x="281.8" y="588.30" font-family="Liberation Sans, sans-serif" font-size="11.3" text-anchor="end" fill="#262626">-4</text>
<text x="281.8" y="631.10" font-family="Liberation Sans, sans-serif" font-size="11.3" text-anchor="end" fill="#262626">-4.5</text>
<text x="281.8" y="673.90" font-family="Liberation Sans, sans-serif" font-size="11.3" text-anchor="end" fill="#262626">-5</text>
<text x="281.8" y="716.80" font-family="Liberation Sans, sans-serif" font-size="11.3" text-anchor="end" fill="#262626">-5.5</text>
<text x="285.75" y="727.4" font-family="Liberation Sans, sans-serif" font-size="11" text-anchor="middle" fill="#262626">0</text>
<text x="463.25" y="727.4" font-family="Liberation Sans, sans-serif" font-size="11" text-anchor="middle" fill="#262626">10</text>
<text x="518.25" y="727.4" font-family="Liberation Sans, sans-serif" font-size="11" text-anchor="middle" fill="#262626">20</text>
<text x="549.60" y="727.4" font-family="Liberation Sans, sans-serif" font-size="11" text-anchor="middle" fill="#262626">30</text>
<text x="417.5" y="743.6" font-family="Liberation Sans, sans-serif" font-size="13" text-anchor="middle" fill="#262626">Frequency (Hz)</text>
<text transform="translate(257.2,583.5) rotate(-90)" font-family="Liberation Sans, sans-serif" font-size="13" text-anchor="middle" fill="#262626">log(PSD)</text>
<rect x="296.5" y="597.3" width="104.3" height="103.2" fill="#fff" stroke="#6a6a6a" stroke-width="0.9"/>
<line x1="296.5" y1="611.25" x2="400.75" y2="661.5" stroke="#9ea216" stroke-width="1"/>
<line x1="296.5" y1="600.5" x2="400.75" y2="687.75" stroke="#43736a" stroke-width="1"/>
<rect x="485.5" y="460.5" width="59" height="30" fill="#fff" stroke="#6a6a6a" stroke-width="0.8"/>
<line x1="488" y1="469.25" x2="505" y2="469.25" stroke="#9ea216" stroke-width="1"/>
<line x1="488" y1="483.25" x2="505" y2="483.25" stroke="#43736a" stroke-width="1"/>
<text x="506.6" y="472.9" font-family="Liberation Sans, sans-serif" font-size="10.6" fill="#111">Healthy</text>
<text x="506.6" y="486.9" font-family="Liberation Sans, sans-serif" font-size="10.6" fill="#111">CLIS</text>
<text x="217.8" y="463.1" font-family="Liberation Sans, sans-serif" font-size="14.3" fill="#111">e</text>
</svg>
</body></html>
